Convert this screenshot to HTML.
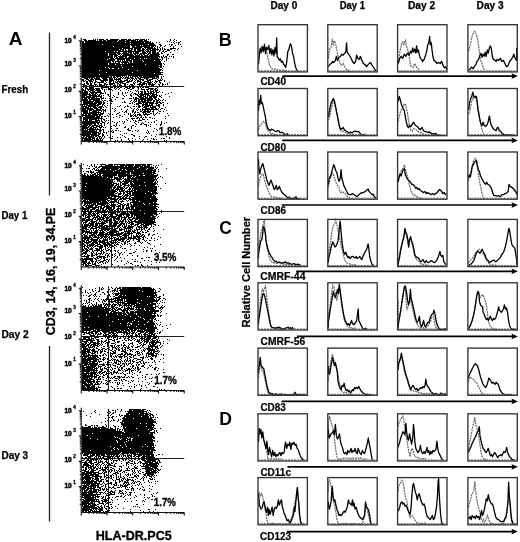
<!DOCTYPE html>
<html><head><meta charset="utf-8"><style>html,body{margin:0;padding:0;background:#fff;width:520px;height:542px;overflow:hidden}svg{display:block}</style></head>
<body><svg width="520" height="542" viewBox="0 0 520 542"><text x="8.87" y="44.65" font-size="18.60" textLength="13.80" lengthAdjust="spacingAndGlyphs" font-family="'Liberation Sans', Arial, sans-serif" font-weight="bold" >A</text><text x="1.59" y="92.85" font-size="10.00" textLength="26.66" lengthAdjust="spacingAndGlyphs" font-family="'Liberation Sans', Arial, sans-serif" font-weight="bold" stroke="#000" stroke-width="0.25">Fresh</text><text x="1.50" y="218.55" font-size="10.00" textLength="25.83" lengthAdjust="spacingAndGlyphs" font-family="'Liberation Sans', Arial, sans-serif" font-weight="bold" stroke="#000" stroke-width="0.25">Day 1</text><text x="1.46" y="337.55" font-size="10.00" textLength="27.21" lengthAdjust="spacingAndGlyphs" font-family="'Liberation Sans', Arial, sans-serif" font-weight="bold" stroke="#000" stroke-width="0.25">Day 2</text><text x="1.48" y="458.55" font-size="10.00" textLength="26.63" lengthAdjust="spacingAndGlyphs" font-family="'Liberation Sans', Arial, sans-serif" font-weight="bold" stroke="#000" stroke-width="0.25">Day 3</text><path d="M49.5 32.5V195.6M49.5 346V521.5" stroke="#222" stroke-width="1.3" fill="none"/><text transform="translate(55.05 335.25) rotate(-90)" font-size="12.40" textLength="127.59" lengthAdjust="spacingAndGlyphs" font-family="'Liberation Sans', Arial, sans-serif" font-weight="bold" stroke="#000" stroke-width="0.35">CD3, 14, 16, 19, 34.PE</text><text x="95.70" y="539.75" font-size="13.00" textLength="76.10" lengthAdjust="spacingAndGlyphs" font-family="'Liberation Sans', Arial, sans-serif" font-weight="bold" stroke="#000" stroke-width="0.35">HLA-DR.PC5</text><path d="M81.25 86.5H184.25M110.5 38.75V141.5" stroke="#222" stroke-width="1" fill="none"/><path d="M83 39.5h3M93 39.5h1M95 39.5h1M97 39.5h1M99 39.5h5M106 39.5h2M110 39.5h9M121 39.5h6M128 39.5h3M133 39.5h1M135 39.5h4M140 39.5h5M146 39.5h1M148 39.5h1M170 39.5h1M174 39.5h1M84 40.5h3M88 40.5h8M97 40.5h1M99 40.5h3M103 40.5h3M107 40.5h11M119 40.5h6M126 40.5h10M137 40.5h1M139 40.5h4M144 40.5h3M170 40.5h1M173 40.5h1M176 40.5h1M82 41.5h2M85 41.5h32M118 41.5h12M131 41.5h18M150 41.5h1M167 41.5h1M169 41.5h1M174 41.5h1M180 41.5h1M82 42.5h2M85 42.5h40M126 42.5h18M145 42.5h6M152 42.5h1M156 42.5h1M159 42.5h1M171 42.5h1M173 42.5h1M176 42.5h1M178 42.5h2M82 43.5h48M131 43.5h23M174 43.5h1M178 43.5h1M82 44.5h20M103 44.5h45M149 44.5h6M159 44.5h2M169 44.5h1M171 44.5h2M178 44.5h1M180 44.5h1M82 45.5h48M131 45.5h9M141 45.5h1M143 45.5h13M160 45.5h2M165 45.5h1M171 45.5h1M175 45.5h1M82 46.5h31M114 46.5h16M132 46.5h3M136 46.5h14M151 46.5h3M155 46.5h1M157 46.5h1M160 46.5h1M164 46.5h1M170 46.5h1M173 46.5h1M181 46.5h1M82 47.5h48M132 47.5h10M144 47.5h9M154 47.5h1M157 47.5h1M159 47.5h1M162 47.5h1M173 47.5h1M82 48.5h40M123 48.5h10M134 48.5h7M142 48.5h2M145 48.5h1M147 48.5h9M157 48.5h1M160 48.5h1M162 48.5h1M164 48.5h1M170 48.5h6M178 48.5h1M82 49.5h37M120 49.5h4M125 49.5h1M128 49.5h2M131 49.5h2M134 49.5h2M137 49.5h4M142 49.5h3M146 49.5h5M152 49.5h7M160 49.5h1M162 49.5h1M164 49.5h2M167 49.5h2M170 49.5h2M177 49.5h1M82 50.5h39M122 50.5h2M125 50.5h2M128 50.5h4M134 50.5h2M137 50.5h7M145 50.5h1M147 50.5h2M150 50.5h6M157 50.5h1M159 50.5h2M163 50.5h1M167 50.5h3M174 50.5h1M82 51.5h23M106 51.5h8M115 51.5h2M118 51.5h23M142 51.5h3M146 51.5h5M152 51.5h4M159 51.5h1M162 51.5h2M165 51.5h2M82 52.5h38M123 52.5h4M128 52.5h4M133 52.5h1M135 52.5h4M142 52.5h4M147 52.5h1M149 52.5h2M152 52.5h4M157 52.5h2M161 52.5h1M164 52.5h1M170 52.5h1M82 53.5h26M109 53.5h7M117 53.5h4M122 53.5h7M130 53.5h2M133 53.5h6M140 53.5h7M148 53.5h3M152 53.5h7M161 53.5h2M82 54.5h26M109 54.5h8M118 54.5h2M121 54.5h1M123 54.5h10M134 54.5h2M137 54.5h1M139 54.5h3M143 54.5h2M147 54.5h2M150 54.5h10M167 54.5h2M172 54.5h2M82 55.5h26M109 55.5h1M111 55.5h2M114 55.5h4M120 55.5h1M122 55.5h12M135 55.5h5M141 55.5h2M144 55.5h4M149 55.5h10M163 55.5h1M167 55.5h1M82 56.5h28M111 56.5h2M114 56.5h3M118 56.5h9M129 56.5h31M161 56.5h1M163 56.5h1M165 56.5h2M169 56.5h1M171 56.5h1M173 56.5h1M82 57.5h31M114 57.5h1M116 57.5h2M119 57.5h5M125 57.5h2M128 57.5h30M159 57.5h1M161 57.5h2M164 57.5h1M166 57.5h1M173 57.5h1M82 58.5h27M110 58.5h4M115 58.5h19M135 58.5h5M141 58.5h3M145 58.5h1M147 58.5h12M162 58.5h1M166 58.5h1M168 58.5h1M82 59.5h25M108 59.5h7M117 59.5h8M126 59.5h4M131 59.5h30M162 59.5h1M166 59.5h1M82 60.5h33M117 60.5h2M120 60.5h1M122 60.5h1M124 60.5h1M126 60.5h6M133 60.5h9M143 60.5h11M155 60.5h5M161 60.5h1M166 60.5h1M82 61.5h29M112 61.5h2M115 61.5h6M122 61.5h6M129 61.5h3M133 61.5h10M144 61.5h17M164 61.5h1M82 62.5h29M113 62.5h1M115 62.5h1M118 62.5h2M121 62.5h8M130 62.5h2M133 62.5h28M82 63.5h26M109 63.5h11M122 63.5h1M124 63.5h3M128 63.5h34M163 63.5h1M82 64.5h26M109 64.5h6M116 64.5h29M146 64.5h16M164 64.5h1M82 65.5h39M122 65.5h37M160 65.5h2M82 66.5h50M133 66.5h29M163 66.5h1M82 67.5h23M106 67.5h2M109 67.5h13M123 67.5h36M160 67.5h2M82 68.5h27M110 68.5h2M114 68.5h4M119 68.5h41M162 68.5h1M82 69.5h46M129 69.5h33M82 70.5h17M100 70.5h37M138 70.5h23M162 70.5h1M82 71.5h78M82 72.5h24M107 72.5h25M133 72.5h30M82 73.5h72M155 73.5h6M82 74.5h17M100 74.5h63M82 75.5h45M128 75.5h31M82 76.5h27M110 76.5h2M113 76.5h2M116 76.5h5M122 76.5h1M124 76.5h1M126 76.5h1M128 76.5h1M130 76.5h1M132 76.5h6M139 76.5h3M143 76.5h16M161 76.5h1M163 76.5h1M82 77.5h13M96 77.5h4M101 77.5h9M111 77.5h1M113 77.5h3M117 77.5h1M120 77.5h2M123 77.5h1M125 77.5h4M130 77.5h3M135 77.5h1M137 77.5h2M140 77.5h15M156 77.5h3M161 77.5h1M84 78.5h4M89 78.5h1M91 78.5h2M94 78.5h6M102 78.5h5M109 78.5h4M114 78.5h1M116 78.5h1M118 78.5h3M122 78.5h1M124 78.5h2M127 78.5h3M131 78.5h3M135 78.5h2M138 78.5h3M144 78.5h5M152 78.5h5M158 78.5h1M161 78.5h1M82 79.5h2M86 79.5h3M90 79.5h4M95 79.5h6M103 79.5h5M109 79.5h4M114 79.5h7M126 79.5h2M130 79.5h1M132 79.5h1M134 79.5h1M136 79.5h1M139 79.5h5M146 79.5h2M149 79.5h4M157 79.5h1M160 79.5h1M162 79.5h1M82 80.5h2M85 80.5h1M88 80.5h4M93 80.5h1M95 80.5h1M100 80.5h8M109 80.5h5M116 80.5h1M118 80.5h1M120 80.5h2M124 80.5h4M129 80.5h1M131 80.5h2M135 80.5h1M137 80.5h2M140 80.5h1M142 80.5h2M147 80.5h4M155 80.5h1M158 80.5h4M164 80.5h1M83 81.5h2M86 81.5h2M89 81.5h4M95 81.5h2M101 81.5h3M105 81.5h1M109 81.5h3M113 81.5h1M115 81.5h1M117 81.5h8M127 81.5h5M134 81.5h1M137 81.5h4M144 81.5h5M150 81.5h1M152 81.5h1M155 81.5h3M159 81.5h1M164 81.5h1M86 82.5h2M90 82.5h1M92 82.5h1M94 82.5h2M97 82.5h7M106 82.5h1M109 82.5h2M113 82.5h1M115 82.5h3M119 82.5h4M126 82.5h3M133 82.5h1M135 82.5h1M137 82.5h1M140 82.5h2M143 82.5h2M147 82.5h5M154 82.5h1M156 82.5h1M159 82.5h2M169 82.5h1M84 83.5h1M86 83.5h3M90 83.5h2M94 83.5h1M99 83.5h1M104 83.5h2M109 83.5h6M117 83.5h2M120 83.5h1M122 83.5h4M133 83.5h2M139 83.5h2M142 83.5h5M148 83.5h3M152 83.5h1M155 83.5h1M160 83.5h1M162 83.5h1M167 83.5h1M82 84.5h3M87 84.5h2M90 84.5h2M94 84.5h3M99 84.5h3M104 84.5h4M109 84.5h4M114 84.5h1M117 84.5h1M119 84.5h2M124 84.5h2M127 84.5h1M130 84.5h3M134 84.5h1M137 84.5h8M146 84.5h1M148 84.5h7M158 84.5h2M162 84.5h2M165 84.5h1M167 84.5h1M83 85.5h4M89 85.5h5M95 85.5h1M97 85.5h1M99 85.5h6M106 85.5h1M113 85.5h3M117 85.5h1M119 85.5h3M124 85.5h2M129 85.5h1M131 85.5h3M139 85.5h1M141 85.5h2M146 85.5h1M149 85.5h1M151 85.5h3M159 85.5h1M162 85.5h1M82 86.5h3M86 86.5h1M89 86.5h1M91 86.5h1M94 86.5h6M101 86.5h2M105 86.5h2M110 86.5h1M115 86.5h2M118 86.5h2M121 86.5h2M124 86.5h1M126 86.5h1M129 86.5h4M135 86.5h1M140 86.5h1M143 86.5h1M147 86.5h2M150 86.5h2M153 86.5h1M156 86.5h1M159 86.5h3M83 87.5h1M85 87.5h2M89 87.5h5M101 87.5h8M110 87.5h3M114 87.5h2M117 87.5h2M120 87.5h2M125 87.5h3M129 87.5h2M132 87.5h3M137 87.5h2M140 87.5h1M142 87.5h2M145 87.5h4M157 87.5h1M82 88.5h1M85 88.5h3M89 88.5h5M95 88.5h5M101 88.5h2M108 88.5h2M114 88.5h1M116 88.5h1M119 88.5h1M124 88.5h1M127 88.5h3M132 88.5h2M138 88.5h1M141 88.5h1M148 88.5h6M155 88.5h2M82 89.5h2M85 89.5h1M87 89.5h8M96 89.5h4M102 89.5h1M104 89.5h1M106 89.5h1M108 89.5h4M115 89.5h1M118 89.5h1M126 89.5h1M130 89.5h2M138 89.5h1M141 89.5h4M146 89.5h3M150 89.5h3M154 89.5h2M157 89.5h1M82 90.5h4M88 90.5h1M90 90.5h4M95 90.5h6M104 90.5h1M110 90.5h1M112 90.5h1M120 90.5h1M128 90.5h1M135 90.5h1M137 90.5h1M144 90.5h1M147 90.5h1M150 90.5h1M153 90.5h1M155 90.5h3M82 91.5h1M84 91.5h4M89 91.5h2M92 91.5h3M97 91.5h4M104 91.5h1M130 91.5h1M136 91.5h1M138 91.5h1M140 91.5h3M144 91.5h2M147 91.5h2M150 91.5h4M155 91.5h2M159 91.5h1M82 92.5h6M90 92.5h12M105 92.5h1M110 92.5h1M118 92.5h1M122 92.5h1M125 92.5h1M127 92.5h1M132 92.5h1M138 92.5h1M141 92.5h2M144 92.5h2M148 92.5h1M150 92.5h2M153 92.5h2M156 92.5h3M162 92.5h1M171 92.5h1M82 93.5h6M89 93.5h1M91 93.5h3M95 93.5h2M100 93.5h4M105 93.5h1M110 93.5h1M118 93.5h1M122 93.5h1M125 93.5h1M131 93.5h1M134 93.5h2M138 93.5h1M140 93.5h3M144 93.5h10M156 93.5h1M168 93.5h1M82 94.5h9M92 94.5h4M97 94.5h1M99 94.5h2M107 94.5h2M118 94.5h1M122 94.5h1M130 94.5h1M133 94.5h1M135 94.5h3M139 94.5h10M150 94.5h1M152 94.5h5M165 94.5h1M82 95.5h5M89 95.5h8M98 95.5h2M101 95.5h1M103 95.5h1M108 95.5h1M113 95.5h1M123 95.5h1M126 95.5h1M130 95.5h2M137 95.5h2M140 95.5h4M145 95.5h1M147 95.5h3M151 95.5h4M156 95.5h2M159 95.5h1M161 95.5h1M82 96.5h3M86 96.5h5M92 96.5h10M109 96.5h1M114 96.5h1M124 96.5h1M131 96.5h1M138 96.5h4M143 96.5h3M147 96.5h1M149 96.5h8M159 96.5h2M169 96.5h1M82 97.5h13M96 97.5h1M100 97.5h2M103 97.5h1M112 97.5h1M116 97.5h2M133 97.5h1M135 97.5h2M139 97.5h5M145 97.5h3M149 97.5h3M153 97.5h4M161 97.5h1M82 98.5h1M84 98.5h3M88 98.5h2M91 98.5h9M101 98.5h3M105 98.5h1M109 98.5h1M122 98.5h2M129 98.5h3M133 98.5h1M135 98.5h4M140 98.5h13M154 98.5h2M158 98.5h1M82 99.5h6M89 99.5h11M101 99.5h1M110 99.5h2M115 99.5h1M134 99.5h3M138 99.5h8M147 99.5h6M155 99.5h2M158 99.5h2M163 99.5h1M82 100.5h6M89 100.5h2M93 100.5h7M102 100.5h1M104 100.5h2M109 100.5h1M111 100.5h1M131 100.5h1M134 100.5h1M136 100.5h1M138 100.5h2M141 100.5h2M144 100.5h8M153 100.5h2M156 100.5h3M160 100.5h1M162 100.5h1M165 100.5h1M83 101.5h11M95 101.5h7M103 101.5h1M107 101.5h1M111 101.5h2M124 101.5h1M130 101.5h1M133 101.5h1M135 101.5h2M138 101.5h8M147 101.5h2M150 101.5h1M153 101.5h2M156 101.5h2M159 101.5h1M83 102.5h10M94 102.5h8M103 102.5h2M122 102.5h1M124 102.5h2M132 102.5h1M134 102.5h1M138 102.5h3M142 102.5h12M156 102.5h5M162 102.5h2M83 103.5h14M98 103.5h4M103 103.5h2M107 103.5h1M111 103.5h1M129 103.5h2M132 103.5h1M136 103.5h6M143 103.5h1M145 103.5h3M149 103.5h5M155 103.5h3M160 103.5h2M167 103.5h1M82 104.5h6M89 104.5h7M97 104.5h4M102 104.5h2M134 104.5h1M136 104.5h3M142 104.5h6M149 104.5h1M151 104.5h2M156 104.5h1M158 104.5h2M163 104.5h1M82 105.5h1M84 105.5h1M86 105.5h13M102 105.5h1M104 105.5h1M107 105.5h1M120 105.5h1M127 105.5h1M138 105.5h2M142 105.5h2M145 105.5h8M156 105.5h4M163 105.5h1M82 106.5h5M88 106.5h8M97 106.5h1M99 106.5h4M105 106.5h1M117 106.5h1M119 106.5h1M125 106.5h1M127 106.5h2M133 106.5h2M136 106.5h1M138 106.5h3M142 106.5h1M144 106.5h5M150 106.5h1M152 106.5h4M158 106.5h2M82 107.5h2M85 107.5h4M90 107.5h1M93 107.5h4M98 107.5h4M103 107.5h1M106 107.5h1M124 107.5h1M130 107.5h1M138 107.5h2M143 107.5h4M150 107.5h6M159 107.5h1M165 107.5h1M82 108.5h11M94 108.5h4M100 108.5h2M112 108.5h1M115 108.5h1M131 108.5h1M134 108.5h1M137 108.5h1M142 108.5h1M145 108.5h5M151 108.5h3M155 108.5h2M158 108.5h1M161 108.5h2M82 109.5h4M87 109.5h7M96 109.5h5M102 109.5h2M105 109.5h1M110 109.5h1M114 109.5h1M121 109.5h1M127 109.5h1M133 109.5h1M136 109.5h1M138 109.5h1M140 109.5h1M142 109.5h16M160 109.5h1M164 109.5h1M82 110.5h6M89 110.5h3M93 110.5h9M103 110.5h3M115 110.5h1M126 110.5h1M132 110.5h2M137 110.5h1M140 110.5h1M142 110.5h1M144 110.5h2M147 110.5h2M150 110.5h1M153 110.5h1M158 110.5h1M166 110.5h1M82 111.5h6M89 111.5h1M92 111.5h5M98 111.5h1M101 111.5h1M103 111.5h1M105 111.5h1M114 111.5h1M122 111.5h1M125 111.5h2M132 111.5h2M135 111.5h1M140 111.5h2M143 111.5h8M152 111.5h2M159 111.5h2M163 111.5h1M83 112.5h5M89 112.5h12M103 112.5h1M119 112.5h1M124 112.5h1M126 112.5h1M132 112.5h1M134 112.5h2M137 112.5h2M142 112.5h4M147 112.5h3M153 112.5h1M157 112.5h1M83 113.5h14M98 113.5h1M100 113.5h4M108 113.5h1M110 113.5h1M117 113.5h2M128 113.5h1M130 113.5h1M134 113.5h1M139 113.5h1M143 113.5h1M145 113.5h2M150 113.5h2M153 113.5h1M156 113.5h1M159 113.5h1M167 113.5h1M82 114.5h2M85 114.5h2M88 114.5h3M92 114.5h11M109 114.5h1M112 114.5h1M116 114.5h1M124 114.5h1M128 114.5h1M130 114.5h1M133 114.5h1M135 114.5h1M137 114.5h4M143 114.5h7M153 114.5h1M155 114.5h1M82 115.5h16M99 115.5h2M107 115.5h1M119 115.5h2M130 115.5h3M134 115.5h2M137 115.5h1M139 115.5h3M144 115.5h1M147 115.5h1M154 115.5h1M168 115.5h1M82 116.5h1M85 116.5h10M96 116.5h4M101 116.5h2M104 116.5h2M108 116.5h1M116 116.5h1M122 116.5h1M130 116.5h2M133 116.5h1M135 116.5h2M141 116.5h1M145 116.5h1M165 116.5h1M83 117.5h17M101 117.5h1M113 117.5h1M119 117.5h1M137 117.5h2M140 117.5h2M143 117.5h1M145 117.5h2M149 117.5h2M83 118.5h20M106 118.5h1M128 118.5h1M131 118.5h4M136 118.5h2M139 118.5h1M142 118.5h1M152 118.5h1M154 118.5h1M165 118.5h1M83 119.5h5M89 119.5h8M98 119.5h1M101 119.5h1M103 119.5h2M110 119.5h1M126 119.5h1M132 119.5h1M139 119.5h1M142 119.5h3M147 119.5h1M83 120.5h1M85 120.5h3M89 120.5h3M95 120.5h5M101 120.5h1M104 120.5h1M106 120.5h1M108 120.5h1M127 120.5h1M133 120.5h1M135 120.5h1M138 120.5h4M156 120.5h1M82 121.5h16M99 121.5h1M101 121.5h2M105 121.5h1M110 121.5h1M112 121.5h1M119 121.5h1M122 121.5h1M124 121.5h1M130 121.5h1M135 121.5h2M145 121.5h1M154 121.5h1M161 121.5h1M82 122.5h18M102 122.5h3M108 122.5h1M114 122.5h1M117 122.5h1M124 122.5h1M134 122.5h1M138 122.5h1M142 122.5h1M148 122.5h1M151 122.5h1M154 122.5h1M161 122.5h1M166 122.5h1M82 123.5h14M97 123.5h2M100 123.5h2M104 123.5h1M107 123.5h1M116 123.5h1M123 123.5h1M135 123.5h1M141 123.5h1M143 123.5h1M161 123.5h1M164 123.5h1M83 124.5h9M94 124.5h2M98 124.5h1M101 124.5h1M104 124.5h1M116 124.5h1M136 124.5h1M140 124.5h2M144 124.5h3M150 124.5h1M156 124.5h1M160 124.5h2M82 125.5h6M89 125.5h2M92 125.5h6M99 125.5h3M104 125.5h1M113 125.5h2M116 125.5h1M119 125.5h1M132 125.5h2M146 125.5h1M148 125.5h1M160 125.5h1M82 126.5h5M88 126.5h2M91 126.5h3M96 126.5h4M101 126.5h2M111 126.5h1M115 126.5h1M125 126.5h1M131 126.5h1M135 126.5h1M146 126.5h1M150 126.5h1M82 127.5h7M90 127.5h2M93 127.5h4M99 127.5h3M103 127.5h1M105 127.5h1M110 127.5h1M124 127.5h2M131 127.5h1M82 128.5h6M89 128.5h5M95 128.5h1M97 128.5h1M100 128.5h1M111 128.5h1M116 128.5h2M128 128.5h1M131 128.5h1M154 128.5h1M82 129.5h2M85 129.5h1M87 129.5h14M102 129.5h2M127 129.5h2M156 129.5h1M82 130.5h6M89 130.5h6M96 130.5h1M99 130.5h3M103 130.5h1M110 130.5h1M112 130.5h1M115 130.5h2M118 130.5h1M128 130.5h3M135 130.5h1M138 130.5h1M147 130.5h1M157 130.5h1M82 131.5h15M99 131.5h2M103 131.5h1M108 131.5h1M111 131.5h1M113 131.5h1M120 131.5h1M132 131.5h1M137 131.5h1M148 131.5h1M153 131.5h1M82 132.5h17M100 132.5h1M103 132.5h2M106 132.5h1M112 132.5h2M146 132.5h1M148 132.5h1M82 133.5h9M92 133.5h5M98 133.5h3M102 133.5h1M106 133.5h1M124 133.5h1M126 133.5h1M147 133.5h1M149 133.5h1M82 134.5h15M98 134.5h2M102 134.5h2M110 134.5h1M120 134.5h1M131 134.5h2M156 134.5h1M82 135.5h8M91 135.5h8M102 135.5h2M107 135.5h1M122 135.5h1M133 135.5h2M151 135.5h1M83 136.5h2M86 136.5h8M95 136.5h2M98 136.5h3M102 136.5h1M104 136.5h1M112 136.5h1M124 136.5h1M134 136.5h1M139 136.5h1M145 136.5h2M155 136.5h1M166 136.5h1M82 137.5h2M85 137.5h2M88 137.5h7M97 137.5h1M99 137.5h1M101 137.5h1M104 137.5h1M109 137.5h1M117 137.5h1M120 137.5h1M125 137.5h1M144 137.5h1M169 137.5h1M82 138.5h9M92 138.5h3M96 138.5h2M99 138.5h3M103 138.5h1M111 138.5h2M128 138.5h1M132 138.5h1M139 138.5h1M151 138.5h1M153 138.5h1M161 138.5h1M163 138.5h2M169 138.5h1M82 139.5h1M84 139.5h9M94 139.5h1M96 139.5h3M100 139.5h1M102 139.5h1M121 139.5h1M128 139.5h1M135 139.5h1M143 139.5h1M147 139.5h1M153 139.5h2M156 139.5h1M82 140.5h9M92 140.5h11M115 140.5h1M117 140.5h1M121 140.5h1M129 140.5h1M132 140.5h1M142 140.5h1M150 140.5h1M164 140.5h1M166 140.5h1" stroke="#000" stroke-width="1" shape-rendering="crispEdges"/><path d="M81.25 37.75V141.5H184.25M81.25 141.5v3M89.00 141.5v1.6M93.54 141.5v1.6M96.75 141.5v1.6M99.25 141.5v1.6M101.29 141.5v1.6M103.01 141.5v1.6M104.50 141.5v1.6M105.82 141.5v1.6M107.00 141.5v3M114.75 141.5v1.6M119.29 141.5v1.6M122.50 141.5v1.6M125.00 141.5v1.6M127.04 141.5v1.6M128.76 141.5v1.6M130.25 141.5v1.6M131.57 141.5v1.6M132.75 141.5v3M140.50 141.5v1.6M145.04 141.5v1.6M148.25 141.5v1.6M150.75 141.5v1.6M152.79 141.5v1.6M154.51 141.5v1.6M156.00 141.5v1.6M157.32 141.5v1.6M158.50 141.5v3M166.25 141.5v1.6M170.79 141.5v1.6M174.00 141.5v1.6M176.50 141.5v1.6M178.54 141.5v1.6M180.26 141.5v1.6M181.75 141.5v1.6M183.07 141.5v1.6M184.25 141.5v3M81.25 40.75h-2.5M81.25 58.43h-1.5M81.25 53.98h-1.5M81.25 50.82h-1.5M81.25 48.37h-1.5M81.25 46.36h-1.5M81.25 44.67h-1.5M81.25 43.20h-1.5M81.25 41.91h-1.5M81.25 66.05h-2.5M81.25 83.73h-1.5M81.25 79.28h-1.5M81.25 76.12h-1.5M81.25 73.67h-1.5M81.25 71.66h-1.5M81.25 69.97h-1.5M81.25 68.50h-1.5M81.25 67.21h-1.5M81.25 91.35h-2.5M81.25 109.03h-1.5M81.25 104.58h-1.5M81.25 101.42h-1.5M81.25 98.97h-1.5M81.25 96.96h-1.5M81.25 95.27h-1.5M81.25 93.80h-1.5M81.25 92.51h-1.5M81.25 116.65h-2.5M81.25 134.33h-1.5M81.25 129.88h-1.5M81.25 126.72h-1.5M81.25 124.27h-1.5M81.25 122.26h-1.5M81.25 120.57h-1.5M81.25 119.10h-1.5M81.25 117.81h-1.5" stroke="#111" stroke-width="1.1" fill="none"/><text x="64.43" y="43.10" font-size="7.20" textLength="7.40" lengthAdjust="spacingAndGlyphs" font-family="'Liberation Sans', Arial, sans-serif" font-weight="bold" stroke="#000" stroke-width="0.5">10</text><text x="73.3" y="39.05" font-size="4.6" font-family="'Liberation Sans', Arial, sans-serif" font-weight="bold" stroke="#000" stroke-width="0.3">4</text><text x="64.43" y="65.90" font-size="7.20" textLength="7.40" lengthAdjust="spacingAndGlyphs" font-family="'Liberation Sans', Arial, sans-serif" font-weight="bold" stroke="#000" stroke-width="0.5">10</text><text x="73.3" y="61.85" font-size="4.6" font-family="'Liberation Sans', Arial, sans-serif" font-weight="bold" stroke="#000" stroke-width="0.3">3</text><text x="64.43" y="91.80" font-size="7.20" textLength="7.40" lengthAdjust="spacingAndGlyphs" font-family="'Liberation Sans', Arial, sans-serif" font-weight="bold" stroke="#000" stroke-width="0.5">10</text><text x="73.3" y="87.75" font-size="4.6" font-family="'Liberation Sans', Arial, sans-serif" font-weight="bold" stroke="#000" stroke-width="0.3">2</text><text x="64.43" y="118.00" font-size="7.20" textLength="7.40" lengthAdjust="spacingAndGlyphs" font-family="'Liberation Sans', Arial, sans-serif" font-weight="bold" stroke="#000" stroke-width="0.5">10</text><text x="73.3" y="113.95" font-size="4.6" font-family="'Liberation Sans', Arial, sans-serif" font-weight="bold" stroke="#000" stroke-width="0.3">1</text><text x="158.63" y="134.85" font-size="10.00" textLength="22.59" lengthAdjust="spacingAndGlyphs" font-family="'Liberation Sans', Arial, sans-serif" font-weight="bold" stroke="#000" stroke-width="0.3">1.8%</text><path d="M81.25 211.5H184.25M111.5 163.75V267" stroke="#222" stroke-width="1" fill="none"/><path d="M83 164.5h1M91 164.5h1M94 164.5h1M97 164.5h1M100 164.5h6M108 164.5h3M112 164.5h1M114 164.5h11M126 164.5h8M135 164.5h11M147 164.5h5M161 164.5h1M87 165.5h1M91 165.5h1M94 165.5h1M101 165.5h1M105 165.5h8M114 165.5h1M117 165.5h1M120 165.5h14M135 165.5h6M142 165.5h4M147 165.5h3M153 165.5h1M156 165.5h1M158 165.5h1M89 166.5h1M92 166.5h1M94 166.5h1M96 166.5h1M99 166.5h25M125 166.5h2M128 166.5h5M134 166.5h9M144 166.5h6M151 166.5h1M155 166.5h1M95 167.5h2M98 167.5h2M102 167.5h37M140 167.5h14M155 167.5h1M157 167.5h1M82 168.5h1M86 168.5h1M88 168.5h2M93 168.5h2M97 168.5h1M101 168.5h18M120 168.5h17M138 168.5h9M148 168.5h6M156 168.5h1M166 168.5h1M92 169.5h1M94 169.5h1M96 169.5h1M98 169.5h1M100 169.5h5M106 169.5h4M111 169.5h7M119 169.5h3M123 169.5h2M126 169.5h20M147 169.5h6M154 169.5h2M158 169.5h1M90 170.5h1M95 170.5h20M116 170.5h10M127 170.5h6M134 170.5h22M83 171.5h1M86 171.5h3M90 171.5h2M93 171.5h1M98 171.5h15M114 171.5h6M121 171.5h31M153 171.5h3M158 171.5h1M88 172.5h1M90 172.5h4M96 172.5h34M131 172.5h24M84 173.5h2M91 173.5h1M94 173.5h2M97 173.5h1M99 173.5h27M127 173.5h3M131 173.5h12M144 173.5h8M153 173.5h3M82 174.5h1M84 174.5h1M87 174.5h1M90 174.5h1M92 174.5h4M97 174.5h4M103 174.5h14M118 174.5h12M131 174.5h1M133 174.5h21M157 174.5h1M82 175.5h4M87 175.5h2M90 175.5h4M95 175.5h3M99 175.5h2M102 175.5h15M118 175.5h21M140 175.5h3M145 175.5h13M82 176.5h20M103 176.5h10M114 176.5h1M118 176.5h8M127 176.5h5M133 176.5h2M136 176.5h21M160 176.5h1M82 177.5h25M108 177.5h5M114 177.5h4M119 177.5h3M123 177.5h1M127 177.5h4M132 177.5h2M135 177.5h21M158 177.5h1M162 177.5h1M82 178.5h28M114 178.5h7M122 178.5h2M125 178.5h1M127 178.5h27M155 178.5h1M157 178.5h1M82 179.5h33M116 179.5h6M124 179.5h6M131 179.5h6M138 179.5h19M82 180.5h29M112 180.5h1M117 180.5h3M123 180.5h1M125 180.5h7M133 180.5h22M156 180.5h1M82 181.5h29M112 181.5h1M114 181.5h1M117 181.5h1M119 181.5h2M122 181.5h32M155 181.5h1M157 181.5h1M82 182.5h32M120 182.5h2M124 182.5h5M130 182.5h2M133 182.5h11M145 182.5h8M154 182.5h2M157 182.5h1M82 183.5h4M87 183.5h25M113 183.5h4M118 183.5h1M120 183.5h1M122 183.5h6M130 183.5h3M134 183.5h23M165 183.5h1M82 184.5h32M116 184.5h3M120 184.5h1M122 184.5h4M128 184.5h1M130 184.5h26M157 184.5h1M82 185.5h29M112 185.5h2M115 185.5h2M118 185.5h1M120 185.5h2M124 185.5h6M131 185.5h8M140 185.5h5M146 185.5h9M82 186.5h3M86 186.5h27M114 186.5h2M117 186.5h4M123 186.5h2M128 186.5h1M130 186.5h27M158 186.5h1M82 187.5h30M113 187.5h3M117 187.5h6M124 187.5h1M126 187.5h2M129 187.5h1M131 187.5h1M133 187.5h24M82 188.5h29M113 188.5h2M116 188.5h3M120 188.5h4M125 188.5h2M129 188.5h2M132 188.5h25M160 188.5h1M82 189.5h28M111 189.5h3M115 189.5h8M124 189.5h1M128 189.5h3M132 189.5h1M134 189.5h23M82 190.5h3M86 190.5h25M112 190.5h4M117 190.5h1M119 190.5h1M121 190.5h4M127 190.5h1M129 190.5h1M131 190.5h5M137 190.5h20M82 191.5h29M112 191.5h5M119 191.5h5M125 191.5h8M134 191.5h14M149 191.5h7M82 192.5h33M117 192.5h1M120 192.5h1M123 192.5h2M126 192.5h2M129 192.5h2M132 192.5h19M152 192.5h5M82 193.5h32M115 193.5h2M118 193.5h4M123 193.5h2M127 193.5h4M132 193.5h13M146 193.5h12M82 194.5h33M118 194.5h3M123 194.5h1M125 194.5h3M129 194.5h2M132 194.5h22M155 194.5h1M82 195.5h35M118 195.5h1M122 195.5h1M124 195.5h5M130 195.5h22M153 195.5h2M82 196.5h28M111 196.5h11M123 196.5h2M126 196.5h2M129 196.5h2M134 196.5h22M82 197.5h25M108 197.5h4M114 197.5h2M118 197.5h3M122 197.5h2M125 197.5h2M129 197.5h1M131 197.5h25M82 198.5h34M117 198.5h2M120 198.5h11M132 198.5h18M151 198.5h6M82 199.5h1M84 199.5h24M110 199.5h8M119 199.5h3M123 199.5h3M129 199.5h29M83 200.5h3M87 200.5h1M89 200.5h17M107 200.5h3M114 200.5h3M118 200.5h1M122 200.5h1M126 200.5h1M128 200.5h1M130 200.5h1M132 200.5h3M136 200.5h21M82 201.5h19M102 201.5h5M108 201.5h1M110 201.5h1M112 201.5h5M118 201.5h1M120 201.5h4M127 201.5h1M132 201.5h7M140 201.5h17M82 202.5h1M84 202.5h15M100 202.5h8M109 202.5h6M116 202.5h3M121 202.5h1M130 202.5h23M154 202.5h2M82 203.5h1M84 203.5h8M93 203.5h3M97 203.5h12M111 203.5h1M113 203.5h1M118 203.5h3M123 203.5h1M127 203.5h2M130 203.5h1M133 203.5h10M144 203.5h5M150 203.5h7M84 204.5h2M87 204.5h1M89 204.5h1M91 204.5h5M97 204.5h9M107 204.5h1M109 204.5h1M111 204.5h5M117 204.5h1M120 204.5h3M124 204.5h2M127 204.5h2M130 204.5h2M133 204.5h11M145 204.5h14M83 205.5h2M86 205.5h8M95 205.5h3M101 205.5h4M106 205.5h3M110 205.5h6M118 205.5h3M122 205.5h3M126 205.5h3M131 205.5h22M154 205.5h2M82 206.5h1M85 206.5h2M88 206.5h5M95 206.5h2M98 206.5h4M104 206.5h6M111 206.5h4M116 206.5h5M122 206.5h2M126 206.5h1M128 206.5h1M130 206.5h28M82 207.5h2M86 207.5h13M100 207.5h2M103 207.5h2M106 207.5h6M113 207.5h2M118 207.5h1M120 207.5h1M122 207.5h2M126 207.5h4M131 207.5h3M135 207.5h21M158 207.5h1M82 208.5h8M92 208.5h4M98 208.5h1M100 208.5h4M106 208.5h6M113 208.5h2M117 208.5h4M122 208.5h2M125 208.5h5M131 208.5h3M135 208.5h22M82 209.5h7M90 209.5h5M96 209.5h3M100 209.5h1M102 209.5h2M105 209.5h2M108 209.5h6M116 209.5h3M120 209.5h3M124 209.5h1M126 209.5h2M129 209.5h26M156 209.5h2M82 210.5h1M84 210.5h2M87 210.5h2M90 210.5h2M95 210.5h6M102 210.5h4M107 210.5h1M109 210.5h4M114 210.5h2M117 210.5h2M120 210.5h1M122 210.5h1M127 210.5h1M131 210.5h1M133 210.5h7M141 210.5h16M161 210.5h1M82 211.5h11M94 211.5h2M97 211.5h2M102 211.5h2M105 211.5h5M112 211.5h1M114 211.5h1M116 211.5h2M119 211.5h1M123 211.5h6M131 211.5h1M133 211.5h24M161 211.5h1M83 212.5h3M88 212.5h4M93 212.5h1M95 212.5h1M97 212.5h10M108 212.5h8M117 212.5h3M121 212.5h5M127 212.5h1M129 212.5h28M161 212.5h1M83 213.5h4M88 213.5h3M92 213.5h3M96 213.5h3M101 213.5h1M104 213.5h1M108 213.5h1M110 213.5h6M117 213.5h1M120 213.5h9M130 213.5h14M145 213.5h12M159 213.5h1M82 214.5h4M87 214.5h5M93 214.5h3M97 214.5h1M99 214.5h1M102 214.5h6M109 214.5h4M115 214.5h3M119 214.5h11M131 214.5h22M154 214.5h4M82 215.5h2M85 215.5h2M88 215.5h2M91 215.5h5M97 215.5h2M101 215.5h1M103 215.5h4M108 215.5h1M110 215.5h3M116 215.5h6M123 215.5h1M126 215.5h4M131 215.5h2M134 215.5h20M156 215.5h1M83 216.5h1M85 216.5h1M87 216.5h4M92 216.5h1M94 216.5h1M96 216.5h4M101 216.5h1M103 216.5h3M107 216.5h1M109 216.5h8M118 216.5h4M124 216.5h1M126 216.5h3M131 216.5h2M134 216.5h1M136 216.5h15M152 216.5h4M158 216.5h1M85 217.5h5M93 217.5h5M99 217.5h5M105 217.5h5M111 217.5h5M117 217.5h3M121 217.5h6M128 217.5h4M133 217.5h2M136 217.5h19M157 217.5h1M82 218.5h4M88 218.5h2M92 218.5h2M95 218.5h1M97 218.5h4M102 218.5h3M106 218.5h3M110 218.5h2M113 218.5h7M121 218.5h1M124 218.5h2M128 218.5h2M132 218.5h24M82 219.5h3M86 219.5h7M94 219.5h2M97 219.5h7M106 219.5h2M109 219.5h2M113 219.5h2M116 219.5h4M121 219.5h1M123 219.5h3M127 219.5h1M129 219.5h4M135 219.5h3M139 219.5h16M82 220.5h8M91 220.5h2M96 220.5h2M99 220.5h1M101 220.5h1M103 220.5h9M113 220.5h3M118 220.5h1M120 220.5h1M122 220.5h2M125 220.5h1M128 220.5h1M130 220.5h2M134 220.5h2M138 220.5h15M154 220.5h1M82 221.5h1M85 221.5h3M90 221.5h7M99 221.5h2M102 221.5h1M104 221.5h4M109 221.5h3M114 221.5h4M119 221.5h5M125 221.5h2M128 221.5h2M131 221.5h24M83 222.5h4M89 222.5h1M91 222.5h4M96 222.5h1M98 222.5h1M101 222.5h4M106 222.5h2M109 222.5h2M112 222.5h1M114 222.5h4M119 222.5h1M121 222.5h2M125 222.5h1M127 222.5h1M129 222.5h4M135 222.5h21M83 223.5h1M85 223.5h1M88 223.5h6M95 223.5h11M109 223.5h3M113 223.5h6M120 223.5h5M126 223.5h1M128 223.5h2M131 223.5h3M137 223.5h5M143 223.5h11M82 224.5h1M84 224.5h5M90 224.5h4M95 224.5h3M99 224.5h1M101 224.5h3M109 224.5h2M113 224.5h4M119 224.5h3M123 224.5h2M126 224.5h1M130 224.5h4M135 224.5h4M141 224.5h3M145 224.5h7M153 224.5h3M82 225.5h1M84 225.5h10M95 225.5h3M99 225.5h4M104 225.5h4M109 225.5h8M118 225.5h3M122 225.5h1M124 225.5h1M126 225.5h1M128 225.5h2M131 225.5h1M134 225.5h2M137 225.5h1M140 225.5h2M143 225.5h6M151 225.5h1M155 225.5h1M158 225.5h1M82 226.5h6M89 226.5h2M92 226.5h5M98 226.5h7M106 226.5h5M112 226.5h4M117 226.5h3M122 226.5h1M124 226.5h3M128 226.5h6M137 226.5h3M141 226.5h1M143 226.5h4M151 226.5h1M153 226.5h1M82 227.5h5M88 227.5h2M91 227.5h2M95 227.5h5M101 227.5h7M109 227.5h1M111 227.5h2M114 227.5h1M117 227.5h2M120 227.5h1M123 227.5h3M127 227.5h6M136 227.5h1M138 227.5h5M144 227.5h4M150 227.5h1M82 228.5h5M90 228.5h7M99 228.5h12M112 228.5h1M114 228.5h4M119 228.5h1M121 228.5h1M124 228.5h7M132 228.5h1M136 228.5h1M139 228.5h1M141 228.5h1M143 228.5h2M146 228.5h1M149 228.5h1M153 228.5h1M82 229.5h2M85 229.5h4M90 229.5h1M93 229.5h1M96 229.5h1M98 229.5h1M101 229.5h9M112 229.5h4M119 229.5h6M126 229.5h1M128 229.5h1M130 229.5h2M134 229.5h1M136 229.5h4M141 229.5h2M144 229.5h1M148 229.5h2M163 229.5h1M82 230.5h3M86 230.5h1M89 230.5h1M91 230.5h1M93 230.5h1M95 230.5h3M99 230.5h4M104 230.5h2M107 230.5h2M110 230.5h1M112 230.5h5M119 230.5h3M124 230.5h1M126 230.5h1M128 230.5h3M132 230.5h1M134 230.5h2M137 230.5h1M141 230.5h1M145 230.5h1M147 230.5h1M154 230.5h1M82 231.5h8M91 231.5h1M94 231.5h4M100 231.5h1M102 231.5h2M106 231.5h1M109 231.5h10M124 231.5h7M132 231.5h3M137 231.5h1M140 231.5h1M142 231.5h1M147 231.5h2M153 231.5h1M82 232.5h2M85 232.5h13M99 232.5h6M107 232.5h10M118 232.5h1M121 232.5h3M125 232.5h1M127 232.5h3M131 232.5h1M133 232.5h3M137 232.5h3M142 232.5h2M145 232.5h2M82 233.5h1M85 233.5h1M87 233.5h1M89 233.5h3M93 233.5h4M99 233.5h5M105 233.5h3M109 233.5h5M116 233.5h7M124 233.5h9M136 233.5h5M149 233.5h1M157 233.5h1M83 234.5h2M87 234.5h1M91 234.5h4M96 234.5h1M98 234.5h24M123 234.5h4M128 234.5h2M131 234.5h1M136 234.5h1M138 234.5h1M140 234.5h1M142 234.5h2M148 234.5h2M153 234.5h2M82 235.5h1M84 235.5h3M89 235.5h7M97 235.5h7M105 235.5h2M108 235.5h1M110 235.5h10M122 235.5h7M131 235.5h1M133 235.5h1M136 235.5h2M139 235.5h1M141 235.5h2M144 235.5h1M148 235.5h1M152 235.5h1M82 236.5h1M84 236.5h4M89 236.5h2M92 236.5h1M94 236.5h3M98 236.5h1M100 236.5h8M109 236.5h1M111 236.5h2M117 236.5h1M119 236.5h3M124 236.5h3M128 236.5h1M131 236.5h1M133 236.5h9M143 236.5h2M158 236.5h1M82 237.5h10M93 237.5h7M101 237.5h2M104 237.5h3M108 237.5h2M111 237.5h1M113 237.5h3M118 237.5h1M120 237.5h1M122 237.5h5M128 237.5h4M133 237.5h3M137 237.5h3M142 237.5h2M145 237.5h1M151 237.5h1M160 237.5h1M82 238.5h8M91 238.5h2M97 238.5h2M100 238.5h2M103 238.5h1M105 238.5h1M107 238.5h1M109 238.5h4M114 238.5h1M116 238.5h3M120 238.5h7M128 238.5h9M138 238.5h3M143 238.5h1M147 238.5h1M151 238.5h1M154 238.5h1M82 239.5h1M84 239.5h2M87 239.5h2M90 239.5h8M99 239.5h1M103 239.5h5M109 239.5h1M111 239.5h1M114 239.5h11M127 239.5h2M130 239.5h1M133 239.5h1M136 239.5h4M142 239.5h2M157 239.5h1M82 240.5h3M86 240.5h3M91 240.5h7M99 240.5h2M102 240.5h6M111 240.5h6M118 240.5h3M122 240.5h2M126 240.5h1M129 240.5h1M133 240.5h1M138 240.5h2M144 240.5h1M146 240.5h1M149 240.5h2M154 240.5h1M82 241.5h3M86 241.5h1M88 241.5h4M93 241.5h4M98 241.5h7M107 241.5h1M109 241.5h3M113 241.5h1M115 241.5h1M117 241.5h1M121 241.5h3M125 241.5h1M127 241.5h3M137 241.5h3M145 241.5h1M82 242.5h1M84 242.5h7M92 242.5h6M99 242.5h10M110 242.5h7M118 242.5h2M124 242.5h2M127 242.5h1M135 242.5h1M140 242.5h1M142 242.5h1M147 242.5h1M82 243.5h2M86 243.5h3M91 243.5h3M95 243.5h3M99 243.5h1M102 243.5h4M107 243.5h3M111 243.5h3M115 243.5h1M117 243.5h1M121 243.5h1M124 243.5h2M129 243.5h1M134 243.5h2M141 243.5h1M148 243.5h2M82 244.5h3M87 244.5h1M89 244.5h6M97 244.5h4M103 244.5h8M114 244.5h1M116 244.5h3M122 244.5h1M124 244.5h1M127 244.5h1M130 244.5h1M150 244.5h1M160 244.5h1M82 245.5h1M84 245.5h2M87 245.5h7M95 245.5h3M100 245.5h3M104 245.5h4M109 245.5h2M112 245.5h1M114 245.5h2M120 245.5h1M131 245.5h1M134 245.5h1M139 245.5h1M82 246.5h3M86 246.5h2M89 246.5h2M92 246.5h1M94 246.5h2M97 246.5h6M104 246.5h2M107 246.5h1M109 246.5h1M112 246.5h2M116 246.5h1M121 246.5h1M130 246.5h1M154 246.5h1M82 247.5h1M84 247.5h1M87 247.5h2M91 247.5h1M93 247.5h1M99 247.5h4M105 247.5h1M108 247.5h1M110 247.5h2M114 247.5h1M120 247.5h1M144 247.5h1M147 247.5h1M82 248.5h1M84 248.5h3M88 248.5h1M90 248.5h3M95 248.5h3M99 248.5h3M105 248.5h1M107 248.5h1M114 248.5h1M122 248.5h1M124 248.5h2M150 248.5h1M152 248.5h1M82 249.5h2M85 249.5h3M89 249.5h4M96 249.5h4M101 249.5h1M103 249.5h1M105 249.5h1M108 249.5h2M130 249.5h1M136 249.5h1M143 249.5h1M82 250.5h3M86 250.5h3M92 250.5h1M94 250.5h6M101 250.5h2M106 250.5h3M110 250.5h2M114 250.5h2M118 250.5h1M126 250.5h1M146 250.5h2M151 250.5h1M155 250.5h1M82 251.5h1M85 251.5h3M89 251.5h1M92 251.5h2M97 251.5h1M100 251.5h2M103 251.5h1M106 251.5h1M110 251.5h2M115 251.5h1M117 251.5h1M135 251.5h1M143 251.5h1M146 251.5h1M151 251.5h1M83 252.5h4M91 252.5h1M93 252.5h1M96 252.5h1M101 252.5h1M103 252.5h2M118 252.5h1M121 252.5h1M124 252.5h1M133 252.5h2M159 252.5h1M82 253.5h5M91 253.5h2M94 253.5h1M96 253.5h1M98 253.5h4M103 253.5h1M106 253.5h2M109 253.5h1M115 253.5h1M119 253.5h2M129 253.5h3M82 254.5h1M85 254.5h1M87 254.5h1M91 254.5h2M95 254.5h3M100 254.5h1M102 254.5h1M105 254.5h1M108 254.5h1M112 254.5h1M114 254.5h1M119 254.5h1M122 254.5h1M84 255.5h1M87 255.5h3M91 255.5h4M96 255.5h1M99 255.5h1M105 255.5h1M107 255.5h2M112 255.5h1M115 255.5h1M119 255.5h1M127 255.5h1M132 255.5h1M137 255.5h1M82 256.5h7M91 256.5h2M97 256.5h8M107 256.5h1M109 256.5h1M114 256.5h1M117 256.5h1M137 256.5h1M158 256.5h1M86 257.5h3M93 257.5h1M96 257.5h2M99 257.5h3M103 257.5h3M107 257.5h1M112 257.5h1M117 257.5h1M120 257.5h1M146 257.5h1M148 257.5h2M82 258.5h1M84 258.5h9M94 258.5h2M97 258.5h2M101 258.5h1M103 258.5h2M116 258.5h1M124 258.5h1M141 258.5h2M82 259.5h11M95 259.5h2M100 259.5h1M104 259.5h1M106 259.5h2M109 259.5h1M115 259.5h1M132 259.5h1M135 259.5h1M156 259.5h1M82 260.5h2M85 260.5h2M90 260.5h3M96 260.5h1M98 260.5h2M103 260.5h3M108 260.5h1M114 260.5h1M121 260.5h1M144 260.5h1M148 260.5h1M82 261.5h5M89 261.5h1M91 261.5h3M95 261.5h2M100 261.5h4M106 261.5h1M108 261.5h1M117 261.5h1M121 261.5h1M127 261.5h1M134 261.5h2M137 261.5h1M151 261.5h1M82 262.5h5M88 262.5h2M92 262.5h1M95 262.5h1M97 262.5h1M99 262.5h2M102 262.5h1M105 262.5h1M107 262.5h1M128 262.5h1M140 262.5h1M156 262.5h1M159 262.5h1M83 263.5h3M87 263.5h4M92 263.5h1M94 263.5h2M98 263.5h1M103 263.5h1M105 263.5h1M126 263.5h1M130 263.5h2M82 264.5h2M85 264.5h2M88 264.5h1M92 264.5h4M101 264.5h1M112 264.5h1M124 264.5h1M132 264.5h1M141 264.5h1M151 264.5h1M83 265.5h1M85 265.5h7M95 265.5h5M118 265.5h1M135 265.5h1M137 265.5h2M141 265.5h2M147 265.5h1M82 266.5h1M85 266.5h3M92 266.5h3M96 266.5h1M98 266.5h1M101 266.5h1M104 266.5h1M107 266.5h1M117 266.5h1M130 266.5h1M142 266.5h2M149 266.5h1" stroke="#000" stroke-width="1" shape-rendering="crispEdges"/><path d="M81.25 162.75V267H184.25M81.25 267v3M89.00 267v1.6M93.54 267v1.6M96.75 267v1.6M99.25 267v1.6M101.29 267v1.6M103.01 267v1.6M104.50 267v1.6M105.82 267v1.6M107.00 267v3M114.75 267v1.6M119.29 267v1.6M122.50 267v1.6M125.00 267v1.6M127.04 267v1.6M128.76 267v1.6M130.25 267v1.6M131.57 267v1.6M132.75 267v3M140.50 267v1.6M145.04 267v1.6M148.25 267v1.6M150.75 267v1.6M152.79 267v1.6M154.51 267v1.6M156.00 267v1.6M157.32 267v1.6M158.50 267v3M166.25 267v1.6M170.79 267v1.6M174.00 267v1.6M176.50 267v1.6M178.54 267v1.6M180.26 267v1.6M181.75 267v1.6M183.07 267v1.6M184.25 267v3M81.25 165.75h-2.5M81.25 183.43h-1.5M81.25 178.98h-1.5M81.25 175.82h-1.5M81.25 173.37h-1.5M81.25 171.36h-1.5M81.25 169.67h-1.5M81.25 168.20h-1.5M81.25 166.91h-1.5M81.25 191.05h-2.5M81.25 208.73h-1.5M81.25 204.28h-1.5M81.25 201.12h-1.5M81.25 198.67h-1.5M81.25 196.66h-1.5M81.25 194.97h-1.5M81.25 193.50h-1.5M81.25 192.21h-1.5M81.25 216.35h-2.5M81.25 234.03h-1.5M81.25 229.58h-1.5M81.25 226.42h-1.5M81.25 223.97h-1.5M81.25 221.96h-1.5M81.25 220.27h-1.5M81.25 218.80h-1.5M81.25 217.51h-1.5M81.25 241.65h-2.5M81.25 259.33h-1.5M81.25 254.88h-1.5M81.25 251.72h-1.5M81.25 249.27h-1.5M81.25 247.26h-1.5M81.25 245.57h-1.5M81.25 244.10h-1.5M81.25 242.81h-1.5" stroke="#111" stroke-width="1.1" fill="none"/><text x="64.43" y="168.10" font-size="7.20" textLength="7.40" lengthAdjust="spacingAndGlyphs" font-family="'Liberation Sans', Arial, sans-serif" font-weight="bold" stroke="#000" stroke-width="0.5">10</text><text x="73.3" y="164.05" font-size="4.6" font-family="'Liberation Sans', Arial, sans-serif" font-weight="bold" stroke="#000" stroke-width="0.3">4</text><text x="64.43" y="190.90" font-size="7.20" textLength="7.40" lengthAdjust="spacingAndGlyphs" font-family="'Liberation Sans', Arial, sans-serif" font-weight="bold" stroke="#000" stroke-width="0.5">10</text><text x="73.3" y="186.85" font-size="4.6" font-family="'Liberation Sans', Arial, sans-serif" font-weight="bold" stroke="#000" stroke-width="0.3">3</text><text x="64.43" y="216.80" font-size="7.20" textLength="7.40" lengthAdjust="spacingAndGlyphs" font-family="'Liberation Sans', Arial, sans-serif" font-weight="bold" stroke="#000" stroke-width="0.5">10</text><text x="73.3" y="212.75" font-size="4.6" font-family="'Liberation Sans', Arial, sans-serif" font-weight="bold" stroke="#000" stroke-width="0.3">2</text><text x="64.43" y="243.00" font-size="7.20" textLength="7.40" lengthAdjust="spacingAndGlyphs" font-family="'Liberation Sans', Arial, sans-serif" font-weight="bold" stroke="#000" stroke-width="0.5">10</text><text x="73.3" y="238.95" font-size="4.6" font-family="'Liberation Sans', Arial, sans-serif" font-weight="bold" stroke="#000" stroke-width="0.3">1</text><text x="153.73" y="260.95" font-size="10.00" textLength="22.69" lengthAdjust="spacingAndGlyphs" font-family="'Liberation Sans', Arial, sans-serif" font-weight="bold" stroke="#000" stroke-width="0.3">3.5%</text><path d="M81.25 336.5H184.25M108.5 286.25V390.5" stroke="#222" stroke-width="1" fill="none"/><path d="M82 287.5h1M99 287.5h1M102 287.5h1M108 287.5h1M111 287.5h1M116 287.5h1M119 287.5h2M122 287.5h19M142 287.5h9M95 288.5h1M99 288.5h1M101 288.5h1M103 288.5h1M112 288.5h1M115 288.5h1M117 288.5h4M122 288.5h30M153 288.5h1M159 288.5h1M89 289.5h1M92 289.5h1M99 289.5h1M101 289.5h2M109 289.5h1M114 289.5h2M117 289.5h1M120 289.5h35M160 289.5h1M85 290.5h1M92 290.5h1M95 290.5h1M99 290.5h1M112 290.5h4M117 290.5h1M119 290.5h20M140 290.5h14M155 290.5h1M85 291.5h1M93 291.5h1M98 291.5h2M107 291.5h1M110 291.5h1M112 291.5h1M114 291.5h1M116 291.5h2M120 291.5h22M143 291.5h11M155 291.5h1M158 291.5h2M82 292.5h1M85 292.5h1M87 292.5h1M90 292.5h1M96 292.5h1M102 292.5h2M107 292.5h1M113 292.5h1M118 292.5h1M120 292.5h37M88 293.5h1M95 293.5h1M104 293.5h1M112 293.5h1M114 293.5h42M91 294.5h1M94 294.5h2M100 294.5h1M104 294.5h1M109 294.5h1M113 294.5h1M115 294.5h4M120 294.5h34M155 294.5h2M163 294.5h1M83 295.5h1M86 295.5h1M89 295.5h2M93 295.5h1M95 295.5h1M107 295.5h1M109 295.5h1M115 295.5h3M119 295.5h3M123 295.5h2M126 295.5h31M163 295.5h1M88 296.5h2M94 296.5h1M96 296.5h1M99 296.5h1M107 296.5h1M110 296.5h1M113 296.5h2M118 296.5h29M148 296.5h1M150 296.5h5M156 296.5h1M159 296.5h2M107 297.5h1M115 297.5h41M157 297.5h3M89 298.5h2M95 298.5h1M98 298.5h1M106 298.5h3M111 298.5h1M113 298.5h7M121 298.5h33M156 298.5h1M159 298.5h2M163 298.5h2M88 299.5h2M94 299.5h1M97 299.5h1M101 299.5h1M103 299.5h1M105 299.5h3M109 299.5h5M115 299.5h1M117 299.5h6M124 299.5h1M126 299.5h11M138 299.5h17M156 299.5h1M158 299.5h2M165 299.5h1M84 300.5h1M86 300.5h1M89 300.5h1M91 300.5h1M98 300.5h1M103 300.5h2M106 300.5h1M109 300.5h1M111 300.5h1M114 300.5h9M124 300.5h1M126 300.5h15M142 300.5h17M162 300.5h1M86 301.5h1M89 301.5h1M93 301.5h1M99 301.5h1M102 301.5h1M104 301.5h2M109 301.5h7M117 301.5h2M120 301.5h1M122 301.5h1M124 301.5h34M160 301.5h1M86 302.5h1M88 302.5h2M96 302.5h1M102 302.5h1M109 302.5h1M111 302.5h2M115 302.5h10M127 302.5h10M138 302.5h15M156 302.5h1M162 302.5h1M164 302.5h1M83 303.5h1M85 303.5h1M87 303.5h1M91 303.5h1M96 303.5h1M103 303.5h2M106 303.5h1M109 303.5h1M113 303.5h1M117 303.5h2M120 303.5h1M122 303.5h17M140 303.5h10M151 303.5h5M157 303.5h1M159 303.5h1M82 304.5h1M89 304.5h1M92 304.5h1M94 304.5h1M96 304.5h1M98 304.5h1M100 304.5h2M103 304.5h1M105 304.5h6M112 304.5h5M118 304.5h3M122 304.5h1M124 304.5h3M128 304.5h2M131 304.5h4M136 304.5h11M148 304.5h8M83 305.5h1M85 305.5h1M88 305.5h1M92 305.5h2M95 305.5h2M98 305.5h4M104 305.5h2M107 305.5h1M109 305.5h1M111 305.5h2M114 305.5h2M117 305.5h1M119 305.5h3M123 305.5h9M134 305.5h19M155 305.5h1M158 305.5h1M162 305.5h1M82 306.5h4M88 306.5h1M90 306.5h2M93 306.5h9M104 306.5h1M106 306.5h1M108 306.5h2M111 306.5h4M119 306.5h1M122 306.5h1M124 306.5h1M126 306.5h1M128 306.5h1M130 306.5h2M133 306.5h2M136 306.5h17M155 306.5h3M161 306.5h1M164 306.5h1M82 307.5h25M111 307.5h3M115 307.5h3M121 307.5h2M124 307.5h1M127 307.5h3M131 307.5h1M133 307.5h1M135 307.5h21M158 307.5h1M160 307.5h4M82 308.5h22M105 308.5h6M112 308.5h3M116 308.5h1M118 308.5h3M124 308.5h10M136 308.5h1M138 308.5h2M141 308.5h3M145 308.5h9M155 308.5h1M159 308.5h2M162 308.5h1M82 309.5h28M111 309.5h2M114 309.5h2M117 309.5h5M123 309.5h3M127 309.5h2M130 309.5h4M135 309.5h9M145 309.5h10M161 309.5h1M82 310.5h29M112 310.5h2M115 310.5h3M121 310.5h7M129 310.5h1M134 310.5h1M137 310.5h8M146 310.5h3M150 310.5h9M160 310.5h1M82 311.5h27M111 311.5h5M118 311.5h1M122 311.5h3M126 311.5h2M130 311.5h4M135 311.5h24M161 311.5h1M82 312.5h5M88 312.5h21M110 312.5h2M113 312.5h9M123 312.5h2M126 312.5h3M130 312.5h23M154 312.5h2M160 312.5h1M82 313.5h44M127 313.5h7M135 313.5h1M137 313.5h19M166 313.5h1M82 314.5h24M107 314.5h10M118 314.5h4M123 314.5h4M128 314.5h8M137 314.5h15M154 314.5h1M157 314.5h1M82 315.5h24M107 315.5h18M126 315.5h30M157 315.5h2M160 315.5h2M82 316.5h7M90 316.5h8M99 316.5h31M131 316.5h7M139 316.5h17M158 316.5h1M160 316.5h1M82 317.5h58M141 317.5h14M82 318.5h53M136 318.5h7M144 318.5h10M155 318.5h1M82 319.5h4M87 319.5h31M119 319.5h3M123 319.5h21M145 319.5h5M151 319.5h2M154 319.5h2M82 320.5h52M135 320.5h18M156 320.5h1M158 320.5h1M82 321.5h30M113 321.5h19M133 321.5h5M139 321.5h9M149 321.5h4M154 321.5h1M82 322.5h46M129 322.5h18M148 322.5h6M160 322.5h1M82 323.5h38M121 323.5h6M128 323.5h2M132 323.5h23M156 323.5h1M82 324.5h49M132 324.5h6M139 324.5h5M145 324.5h10M157 324.5h1M160 324.5h1M170 324.5h1M82 325.5h27M110 325.5h17M128 325.5h1M130 325.5h24M155 325.5h1M159 325.5h1M166 325.5h1M82 326.5h54M137 326.5h17M155 326.5h1M162 326.5h1M82 327.5h2M85 327.5h3M89 327.5h68M82 328.5h46M129 328.5h17M147 328.5h10M167 328.5h1M82 329.5h12M95 329.5h5M101 329.5h32M134 329.5h3M138 329.5h1M140 329.5h15M157 329.5h1M82 330.5h9M93 330.5h3M97 330.5h23M121 330.5h3M125 330.5h5M131 330.5h5M137 330.5h6M144 330.5h11M162 330.5h1M82 331.5h2M86 331.5h1M89 331.5h1M91 331.5h9M102 331.5h8M111 331.5h6M118 331.5h4M123 331.5h4M128 331.5h2M131 331.5h2M134 331.5h1M137 331.5h8M146 331.5h9M157 331.5h1M160 331.5h1M82 332.5h5M88 332.5h5M95 332.5h3M100 332.5h1M103 332.5h4M109 332.5h5M116 332.5h12M129 332.5h2M132 332.5h3M136 332.5h1M140 332.5h4M145 332.5h3M149 332.5h5M159 332.5h2M84 333.5h1M86 333.5h4M91 333.5h3M95 333.5h2M98 333.5h1M100 333.5h2M104 333.5h2M108 333.5h3M112 333.5h4M117 333.5h1M123 333.5h2M126 333.5h4M131 333.5h3M135 333.5h1M138 333.5h3M144 333.5h2M148 333.5h5M154 333.5h2M157 333.5h1M159 333.5h1M83 334.5h2M89 334.5h2M93 334.5h1M95 334.5h1M97 334.5h4M103 334.5h1M105 334.5h4M111 334.5h1M113 334.5h2M116 334.5h1M121 334.5h1M124 334.5h1M126 334.5h2M129 334.5h1M132 334.5h1M135 334.5h2M138 334.5h2M141 334.5h1M143 334.5h5M149 334.5h1M151 334.5h4M90 335.5h5M97 335.5h1M103 335.5h4M109 335.5h2M112 335.5h6M123 335.5h1M126 335.5h1M128 335.5h1M130 335.5h3M135 335.5h3M139 335.5h1M141 335.5h1M144 335.5h2M147 335.5h5M153 335.5h2M156 335.5h1M82 336.5h6M91 336.5h1M93 336.5h2M96 336.5h2M99 336.5h1M104 336.5h4M109 336.5h2M112 336.5h1M116 336.5h1M118 336.5h1M121 336.5h3M127 336.5h3M131 336.5h2M134 336.5h2M137 336.5h1M139 336.5h4M146 336.5h1M148 336.5h8M157 336.5h1M83 337.5h7M91 337.5h1M94 337.5h5M105 337.5h1M107 337.5h3M111 337.5h1M113 337.5h3M117 337.5h1M120 337.5h1M123 337.5h1M125 337.5h1M128 337.5h2M131 337.5h2M136 337.5h1M139 337.5h1M141 337.5h2M144 337.5h2M147 337.5h4M153 337.5h4M158 337.5h1M83 338.5h3M88 338.5h2M91 338.5h3M95 338.5h1M101 338.5h2M107 338.5h1M113 338.5h1M117 338.5h1M119 338.5h2M124 338.5h2M127 338.5h2M131 338.5h1M133 338.5h2M140 338.5h5M146 338.5h5M152 338.5h4M158 338.5h1M82 339.5h10M93 339.5h1M96 339.5h3M106 339.5h1M109 339.5h3M114 339.5h1M116 339.5h2M124 339.5h1M128 339.5h2M132 339.5h1M135 339.5h1M137 339.5h1M139 339.5h1M141 339.5h2M144 339.5h6M151 339.5h2M156 339.5h2M167 339.5h1M82 340.5h1M86 340.5h9M97 340.5h2M101 340.5h1M105 340.5h2M108 340.5h1M112 340.5h3M122 340.5h1M125 340.5h2M128 340.5h1M130 340.5h2M134 340.5h1M137 340.5h3M141 340.5h1M143 340.5h2M146 340.5h3M150 340.5h1M152 340.5h4M157 340.5h1M159 340.5h1M169 340.5h1M82 341.5h6M90 341.5h3M97 341.5h3M101 341.5h2M104 341.5h2M108 341.5h2M114 341.5h1M117 341.5h3M136 341.5h4M142 341.5h1M144 341.5h5M151 341.5h4M156 341.5h3M163 341.5h1M84 342.5h3M88 342.5h1M90 342.5h6M97 342.5h2M101 342.5h1M103 342.5h1M106 342.5h4M115 342.5h1M117 342.5h2M123 342.5h2M132 342.5h1M138 342.5h1M140 342.5h2M144 342.5h1M146 342.5h2M149 342.5h12M82 343.5h2M85 343.5h2M89 343.5h2M93 343.5h7M101 343.5h1M105 343.5h1M107 343.5h2M111 343.5h4M123 343.5h1M128 343.5h1M130 343.5h3M139 343.5h2M143 343.5h1M146 343.5h1M149 343.5h1M151 343.5h3M155 343.5h2M160 343.5h1M163 343.5h1M167 343.5h1M82 344.5h4M87 344.5h3M91 344.5h5M97 344.5h2M100 344.5h1M102 344.5h1M107 344.5h1M115 344.5h1M121 344.5h1M124 344.5h1M129 344.5h1M132 344.5h1M137 344.5h1M141 344.5h1M143 344.5h3M149 344.5h2M152 344.5h4M160 344.5h1M82 345.5h3M86 345.5h3M90 345.5h2M93 345.5h5M99 345.5h1M101 345.5h1M107 345.5h1M110 345.5h3M114 345.5h1M117 345.5h3M121 345.5h1M123 345.5h3M128 345.5h1M133 345.5h1M140 345.5h1M142 345.5h2M148 345.5h1M150 345.5h5M157 345.5h1M159 345.5h1M162 345.5h1M82 346.5h5M88 346.5h1M90 346.5h1M92 346.5h3M97 346.5h2M103 346.5h2M107 346.5h2M111 346.5h2M114 346.5h1M116 346.5h1M118 346.5h1M123 346.5h1M126 346.5h1M128 346.5h1M131 346.5h2M137 346.5h3M142 346.5h1M148 346.5h10M161 346.5h1M82 347.5h4M88 347.5h5M94 347.5h1M96 347.5h1M101 347.5h1M109 347.5h1M112 347.5h4M117 347.5h1M119 347.5h1M122 347.5h1M124 347.5h2M127 347.5h3M132 347.5h1M135 347.5h3M141 347.5h1M143 347.5h1M148 347.5h2M151 347.5h2M155 347.5h3M160 347.5h1M83 348.5h5M89 348.5h1M93 348.5h1M96 348.5h2M102 348.5h3M107 348.5h2M112 348.5h1M115 348.5h2M118 348.5h1M121 348.5h2M125 348.5h1M127 348.5h2M140 348.5h1M144 348.5h1M146 348.5h5M152 348.5h1M155 348.5h1M157 348.5h2M83 349.5h8M92 349.5h3M98 349.5h2M101 349.5h2M105 349.5h2M109 349.5h1M112 349.5h1M116 349.5h1M118 349.5h2M122 349.5h1M124 349.5h2M129 349.5h2M132 349.5h2M135 349.5h1M138 349.5h1M143 349.5h1M145 349.5h1M147 349.5h8M156 349.5h1M82 350.5h4M87 350.5h3M91 350.5h4M98 350.5h1M100 350.5h1M102 350.5h1M104 350.5h1M110 350.5h2M114 350.5h2M118 350.5h2M122 350.5h2M125 350.5h1M127 350.5h1M130 350.5h2M141 350.5h1M143 350.5h2M148 350.5h7M157 350.5h2M82 351.5h8M92 351.5h6M100 351.5h3M104 351.5h2M112 351.5h2M115 351.5h1M121 351.5h5M130 351.5h1M132 351.5h1M136 351.5h3M142 351.5h1M144 351.5h1M148 351.5h2M151 351.5h1M153 351.5h5M159 351.5h1M82 352.5h4M87 352.5h4M92 352.5h1M94 352.5h2M97 352.5h1M100 352.5h2M107 352.5h2M110 352.5h1M113 352.5h3M124 352.5h3M135 352.5h1M137 352.5h1M139 352.5h1M141 352.5h1M147 352.5h2M150 352.5h2M153 352.5h2M158 352.5h1M82 353.5h5M88 353.5h1M91 353.5h4M97 353.5h1M100 353.5h1M104 353.5h1M110 353.5h6M121 353.5h2M125 353.5h3M129 353.5h2M137 353.5h3M142 353.5h1M146 353.5h8M155 353.5h3M82 354.5h3M86 354.5h1M88 354.5h2M92 354.5h1M95 354.5h1M103 354.5h1M105 354.5h1M108 354.5h1M110 354.5h1M112 354.5h1M118 354.5h5M124 354.5h2M127 354.5h6M135 354.5h1M137 354.5h1M140 354.5h1M142 354.5h1M146 354.5h1M148 354.5h6M156 354.5h1M158 354.5h1M161 354.5h1M163 354.5h1M83 355.5h15M99 355.5h2M102 355.5h2M106 355.5h1M108 355.5h1M110 355.5h2M115 355.5h1M117 355.5h1M120 355.5h1M123 355.5h2M127 355.5h1M131 355.5h1M133 355.5h3M138 355.5h2M146 355.5h1M148 355.5h1M151 355.5h6M163 355.5h1M82 356.5h7M90 356.5h1M92 356.5h6M100 356.5h1M108 356.5h1M110 356.5h2M113 356.5h1M115 356.5h2M118 356.5h5M124 356.5h3M129 356.5h2M133 356.5h1M143 356.5h1M146 356.5h1M148 356.5h3M152 356.5h2M155 356.5h2M82 357.5h1M84 357.5h3M88 357.5h8M97 357.5h2M103 357.5h2M108 357.5h1M111 357.5h1M114 357.5h1M116 357.5h1M119 357.5h3M124 357.5h1M127 357.5h1M130 357.5h2M133 357.5h1M140 357.5h4M145 357.5h1M147 357.5h1M151 357.5h1M155 357.5h1M82 358.5h4M87 358.5h10M99 358.5h2M103 358.5h1M105 358.5h1M107 358.5h2M112 358.5h1M121 358.5h1M127 358.5h1M129 358.5h1M134 358.5h3M142 358.5h2M150 358.5h3M163 358.5h1M82 359.5h17M100 359.5h1M102 359.5h3M107 359.5h1M111 359.5h1M113 359.5h3M117 359.5h1M120 359.5h1M125 359.5h1M127 359.5h1M130 359.5h1M133 359.5h1M137 359.5h4M142 359.5h1M148 359.5h1M151 359.5h2M160 359.5h1M82 360.5h9M93 360.5h4M98 360.5h1M103 360.5h1M109 360.5h2M112 360.5h1M114 360.5h1M116 360.5h3M121 360.5h1M124 360.5h1M126 360.5h2M129 360.5h2M132 360.5h1M136 360.5h1M141 360.5h2M154 360.5h1M82 361.5h6M89 361.5h8M98 361.5h4M107 361.5h1M114 361.5h1M116 361.5h1M118 361.5h3M122 361.5h1M124 361.5h1M126 361.5h1M128 361.5h1M130 361.5h1M132 361.5h3M139 361.5h2M143 361.5h1M154 361.5h1M159 361.5h1M82 362.5h9M92 362.5h3M97 362.5h1M99 362.5h1M105 362.5h1M107 362.5h3M111 362.5h1M114 362.5h3M120 362.5h1M125 362.5h1M130 362.5h1M133 362.5h1M136 362.5h3M140 362.5h1M143 362.5h1M145 362.5h2M148 362.5h1M152 362.5h1M155 362.5h1M163 362.5h1M82 363.5h6M89 363.5h9M103 363.5h1M107 363.5h2M113 363.5h1M115 363.5h2M118 363.5h1M120 363.5h1M122 363.5h3M126 363.5h1M128 363.5h3M132 363.5h1M137 363.5h1M141 363.5h1M143 363.5h2M82 364.5h1M84 364.5h14M99 364.5h6M106 364.5h5M112 364.5h1M117 364.5h3M122 364.5h1M124 364.5h1M126 364.5h1M128 364.5h1M131 364.5h1M136 364.5h1M138 364.5h2M144 364.5h1M155 364.5h1M82 365.5h5M88 365.5h1M90 365.5h7M98 365.5h1M102 365.5h3M107 365.5h1M110 365.5h1M113 365.5h3M120 365.5h2M124 365.5h1M127 365.5h1M132 365.5h2M136 365.5h1M138 365.5h1M142 365.5h2M149 365.5h1M151 365.5h1M82 366.5h2M86 366.5h10M98 366.5h4M105 366.5h1M110 366.5h1M115 366.5h1M117 366.5h1M120 366.5h1M123 366.5h2M130 366.5h1M132 366.5h2M137 366.5h1M141 366.5h3M150 366.5h1M82 367.5h13M96 367.5h1M98 367.5h1M100 367.5h1M104 367.5h1M107 367.5h1M109 367.5h1M111 367.5h1M117 367.5h1M119 367.5h1M121 367.5h2M132 367.5h1M135 367.5h1M137 367.5h2M144 367.5h1M148 367.5h1M152 367.5h1M155 367.5h2M82 368.5h3M86 368.5h7M94 368.5h4M100 368.5h1M102 368.5h1M104 368.5h3M112 368.5h1M114 368.5h2M118 368.5h1M121 368.5h2M126 368.5h1M128 368.5h2M131 368.5h1M133 368.5h1M135 368.5h1M137 368.5h2M140 368.5h1M147 368.5h1M154 368.5h2M158 368.5h1M82 369.5h13M96 369.5h1M100 369.5h3M106 369.5h2M110 369.5h1M112 369.5h1M118 369.5h2M121 369.5h1M124 369.5h1M127 369.5h4M134 369.5h1M137 369.5h3M154 369.5h2M163 369.5h1M82 370.5h16M101 370.5h2M107 370.5h1M111 370.5h1M114 370.5h1M118 370.5h3M122 370.5h1M125 370.5h3M129 370.5h1M131 370.5h3M135 370.5h1M138 370.5h1M157 370.5h1M82 371.5h8M91 371.5h1M93 371.5h2M96 371.5h1M99 371.5h3M104 371.5h2M107 371.5h1M109 371.5h1M113 371.5h2M117 371.5h1M123 371.5h1M125 371.5h1M129 371.5h1M131 371.5h1M137 371.5h1M140 371.5h1M82 372.5h2M86 372.5h3M90 372.5h7M98 372.5h3M102 372.5h3M106 372.5h1M110 372.5h2M113 372.5h5M122 372.5h1M129 372.5h1M132 372.5h1M139 372.5h2M163 372.5h2M82 373.5h14M97 373.5h1M99 373.5h1M101 373.5h2M106 373.5h4M111 373.5h1M113 373.5h1M116 373.5h1M118 373.5h1M120 373.5h2M123 373.5h1M127 373.5h1M129 373.5h1M134 373.5h1M159 373.5h1M82 374.5h5M88 374.5h1M90 374.5h3M94 374.5h3M100 374.5h1M103 374.5h1M105 374.5h2M108 374.5h1M111 374.5h2M124 374.5h2M132 374.5h1M146 374.5h2M151 374.5h1M156 374.5h1M158 374.5h1M82 375.5h11M94 375.5h1M96 375.5h3M103 375.5h2M107 375.5h1M125 375.5h1M137 375.5h1M142 375.5h1M82 376.5h15M99 376.5h2M102 376.5h1M107 376.5h2M114 376.5h2M117 376.5h3M121 376.5h1M124 376.5h1M128 376.5h1M131 376.5h1M145 376.5h1M82 377.5h8M91 377.5h2M94 377.5h3M98 377.5h2M102 377.5h2M107 377.5h1M109 377.5h1M111 377.5h1M113 377.5h2M118 377.5h3M122 377.5h3M126 377.5h2M129 377.5h1M132 377.5h2M142 377.5h1M145 377.5h1M152 377.5h1M82 378.5h6M89 378.5h3M94 378.5h1M98 378.5h1M100 378.5h1M106 378.5h1M110 378.5h1M112 378.5h1M115 378.5h3M119 378.5h1M138 378.5h1M149 378.5h1M151 378.5h1M82 379.5h12M96 379.5h5M103 379.5h1M108 379.5h1M118 379.5h1M121 379.5h1M123 379.5h2M145 379.5h1M82 380.5h2M85 380.5h6M93 380.5h2M97 380.5h1M105 380.5h2M109 380.5h2M114 380.5h3M119 380.5h1M121 380.5h1M125 380.5h2M131 380.5h1M133 380.5h1M82 381.5h13M96 381.5h4M101 381.5h1M107 381.5h1M109 381.5h1M122 381.5h1M128 381.5h1M132 381.5h1M138 381.5h1M142 381.5h1M151 381.5h1M82 382.5h4M87 382.5h5M93 382.5h2M96 382.5h2M101 382.5h1M106 382.5h1M110 382.5h1M112 382.5h1M115 382.5h1M117 382.5h1M119 382.5h1M130 382.5h1M147 382.5h1M82 383.5h5M88 383.5h1M90 383.5h3M95 383.5h1M97 383.5h2M100 383.5h1M103 383.5h1M105 383.5h1M107 383.5h1M117 383.5h1M119 383.5h1M122 383.5h1M128 383.5h1M149 383.5h1M82 384.5h1M84 384.5h9M94 384.5h6M106 384.5h2M117 384.5h2M134 384.5h1M139 384.5h1M148 384.5h1M155 384.5h1M82 385.5h9M92 385.5h3M123 385.5h1M136 385.5h1M141 385.5h1M145 385.5h1M82 386.5h3M86 386.5h4M91 386.5h4M98 386.5h1M111 386.5h1M117 386.5h1M129 386.5h1M131 386.5h1M134 386.5h1M141 386.5h1M153 386.5h2M82 387.5h4M87 387.5h8M96 387.5h1M98 387.5h3M112 387.5h1M134 387.5h1M146 387.5h1M157 387.5h1M82 388.5h16M114 388.5h1M117 388.5h2M120 388.5h2M130 388.5h1M141 388.5h1M82 389.5h13M96 389.5h2M99 389.5h1M107 389.5h1M114 389.5h1M127 389.5h1M140 389.5h1M150 389.5h1M159 389.5h1M161 389.5h1M164 389.5h1" stroke="#000" stroke-width="1" shape-rendering="crispEdges"/><path d="M81.25 285.25V390.5H184.25M81.25 390.5v3M89.00 390.5v1.6M93.54 390.5v1.6M96.75 390.5v1.6M99.25 390.5v1.6M101.29 390.5v1.6M103.01 390.5v1.6M104.50 390.5v1.6M105.82 390.5v1.6M107.00 390.5v3M114.75 390.5v1.6M119.29 390.5v1.6M122.50 390.5v1.6M125.00 390.5v1.6M127.04 390.5v1.6M128.76 390.5v1.6M130.25 390.5v1.6M131.57 390.5v1.6M132.75 390.5v3M140.50 390.5v1.6M145.04 390.5v1.6M148.25 390.5v1.6M150.75 390.5v1.6M152.79 390.5v1.6M154.51 390.5v1.6M156.00 390.5v1.6M157.32 390.5v1.6M158.50 390.5v3M166.25 390.5v1.6M170.79 390.5v1.6M174.00 390.5v1.6M176.50 390.5v1.6M178.54 390.5v1.6M180.26 390.5v1.6M181.75 390.5v1.6M183.07 390.5v1.6M184.25 390.5v3M81.25 288.25h-2.5M81.25 305.93h-1.5M81.25 301.48h-1.5M81.25 298.32h-1.5M81.25 295.87h-1.5M81.25 293.86h-1.5M81.25 292.17h-1.5M81.25 290.70h-1.5M81.25 289.41h-1.5M81.25 313.55h-2.5M81.25 331.23h-1.5M81.25 326.78h-1.5M81.25 323.62h-1.5M81.25 321.17h-1.5M81.25 319.16h-1.5M81.25 317.47h-1.5M81.25 316.00h-1.5M81.25 314.71h-1.5M81.25 338.85h-2.5M81.25 356.53h-1.5M81.25 352.08h-1.5M81.25 348.92h-1.5M81.25 346.47h-1.5M81.25 344.46h-1.5M81.25 342.77h-1.5M81.25 341.30h-1.5M81.25 340.01h-1.5M81.25 364.15h-2.5M81.25 381.83h-1.5M81.25 377.38h-1.5M81.25 374.22h-1.5M81.25 371.77h-1.5M81.25 369.76h-1.5M81.25 368.07h-1.5M81.25 366.60h-1.5M81.25 365.31h-1.5" stroke="#111" stroke-width="1.1" fill="none"/><text x="64.43" y="290.60" font-size="7.20" textLength="7.40" lengthAdjust="spacingAndGlyphs" font-family="'Liberation Sans', Arial, sans-serif" font-weight="bold" stroke="#000" stroke-width="0.5">10</text><text x="73.3" y="286.55" font-size="4.6" font-family="'Liberation Sans', Arial, sans-serif" font-weight="bold" stroke="#000" stroke-width="0.3">4</text><text x="64.43" y="313.40" font-size="7.20" textLength="7.40" lengthAdjust="spacingAndGlyphs" font-family="'Liberation Sans', Arial, sans-serif" font-weight="bold" stroke="#000" stroke-width="0.5">10</text><text x="73.3" y="309.35" font-size="4.6" font-family="'Liberation Sans', Arial, sans-serif" font-weight="bold" stroke="#000" stroke-width="0.3">3</text><text x="64.43" y="339.30" font-size="7.20" textLength="7.40" lengthAdjust="spacingAndGlyphs" font-family="'Liberation Sans', Arial, sans-serif" font-weight="bold" stroke="#000" stroke-width="0.5">10</text><text x="73.3" y="335.25" font-size="4.6" font-family="'Liberation Sans', Arial, sans-serif" font-weight="bold" stroke="#000" stroke-width="0.3">2</text><text x="64.43" y="365.50" font-size="7.20" textLength="7.40" lengthAdjust="spacingAndGlyphs" font-family="'Liberation Sans', Arial, sans-serif" font-weight="bold" stroke="#000" stroke-width="0.5">10</text><text x="73.3" y="361.45" font-size="4.6" font-family="'Liberation Sans', Arial, sans-serif" font-weight="bold" stroke="#000" stroke-width="0.3">1</text><text x="154.13" y="383.55" font-size="10.00" textLength="22.59" lengthAdjust="spacingAndGlyphs" font-family="'Liberation Sans', Arial, sans-serif" font-weight="bold" stroke="#000" stroke-width="0.3">1.7%</text><path d="M81.25 458.5H184.25M108.5 408.75V512.5" stroke="#222" stroke-width="1" fill="none"/><path d="M108 409.5h1M117 409.5h1M121 409.5h1M129 409.5h12M142 409.5h4M95 410.5h1M112 410.5h2M115 410.5h1M121 410.5h1M129 410.5h3M133 410.5h11M147 410.5h1M149 410.5h1M83 411.5h1M94 411.5h1M109 411.5h1M115 411.5h1M120 411.5h1M125 411.5h1M127 411.5h20M150 411.5h1M95 412.5h1M107 412.5h1M110 412.5h1M113 412.5h1M115 412.5h1M128 412.5h16M146 412.5h1M148 412.5h1M91 413.5h1M109 413.5h1M112 413.5h2M126 413.5h13M140 413.5h8M149 413.5h2M99 414.5h1M111 414.5h1M119 414.5h1M126 414.5h3M130 414.5h14M145 414.5h4M150 414.5h3M156 414.5h1M86 415.5h1M107 415.5h1M110 415.5h1M119 415.5h1M121 415.5h2M124 415.5h24M149 415.5h2M152 415.5h2M90 416.5h1M112 416.5h2M116 416.5h1M120 416.5h1M124 416.5h17M142 416.5h7M150 416.5h1M153 416.5h1M109 417.5h1M111 417.5h2M123 417.5h2M126 417.5h23M150 417.5h4M155 417.5h1M157 417.5h1M105 418.5h1M112 418.5h1M122 418.5h11M134 418.5h18M108 419.5h1M113 419.5h1M118 419.5h1M120 419.5h1M123 419.5h30M154 419.5h2M107 420.5h1M111 420.5h1M113 420.5h2M118 420.5h1M122 420.5h32M105 421.5h1M110 421.5h1M117 421.5h1M122 421.5h34M101 422.5h1M120 422.5h3M124 422.5h32M121 423.5h19M141 423.5h5M147 423.5h6M156 423.5h1M85 424.5h1M105 424.5h1M108 424.5h1M121 424.5h33M85 425.5h2M91 425.5h2M94 425.5h1M96 425.5h2M106 425.5h1M113 425.5h1M122 425.5h33M82 426.5h1M88 426.5h3M94 426.5h1M97 426.5h1M102 426.5h2M106 426.5h1M114 426.5h2M118 426.5h1M121 426.5h1M123 426.5h23M147 426.5h5M153 426.5h1M82 427.5h9M92 427.5h1M94 427.5h3M98 427.5h8M110 427.5h1M115 427.5h1M123 427.5h2M126 427.5h28M82 428.5h18M101 428.5h7M110 428.5h3M115 428.5h1M117 428.5h2M123 428.5h13M137 428.5h16M154 428.5h2M160 428.5h1M82 429.5h34M117 429.5h1M119 429.5h2M122 429.5h1M124 429.5h24M149 429.5h5M82 430.5h34M117 430.5h1M119 430.5h1M122 430.5h1M124 430.5h28M154 430.5h1M156 430.5h1M82 431.5h40M124 431.5h26M154 431.5h1M156 431.5h1M82 432.5h42M125 432.5h30M157 432.5h1M82 433.5h10M93 433.5h56M150 433.5h3M154 433.5h1M82 434.5h39M122 434.5h31M82 435.5h5M88 435.5h50M139 435.5h14M82 436.5h32M115 436.5h39M82 437.5h33M116 437.5h1M118 437.5h9M128 437.5h1M130 437.5h25M82 438.5h8M91 438.5h28M120 438.5h1M122 438.5h6M129 438.5h2M133 438.5h19M153 438.5h2M82 439.5h15M98 439.5h22M121 439.5h5M127 439.5h4M132 439.5h21M82 440.5h34M117 440.5h11M129 440.5h2M132 440.5h23M82 441.5h35M118 441.5h8M127 441.5h26M154 441.5h1M157 441.5h1M82 442.5h35M118 442.5h6M125 442.5h28M82 443.5h72M82 444.5h43M126 444.5h19M146 444.5h8M82 445.5h38M121 445.5h33M155 445.5h1M82 446.5h28M111 446.5h15M127 446.5h15M143 446.5h4M148 446.5h4M153 446.5h1M82 447.5h32M115 447.5h7M123 447.5h32M82 448.5h31M114 448.5h3M118 448.5h12M131 448.5h23M82 449.5h32M115 449.5h3M119 449.5h36M82 450.5h8M91 450.5h20M112 450.5h38M151 450.5h5M82 451.5h71M82 452.5h39M122 452.5h31M154 452.5h1M82 453.5h1M84 453.5h36M121 453.5h8M130 453.5h6M137 453.5h1M139 453.5h14M83 454.5h6M90 454.5h1M92 454.5h3M96 454.5h9M106 454.5h13M120 454.5h1M122 454.5h2M127 454.5h1M129 454.5h1M131 454.5h1M133 454.5h21M158 454.5h2M162 454.5h1M83 455.5h5M90 455.5h5M96 455.5h4M101 455.5h4M107 455.5h1M109 455.5h1M111 455.5h1M113 455.5h2M116 455.5h2M119 455.5h1M121 455.5h1M123 455.5h3M127 455.5h5M134 455.5h2M138 455.5h4M143 455.5h2M146 455.5h4M151 455.5h3M156 455.5h1M87 456.5h6M95 456.5h2M98 456.5h3M103 456.5h11M115 456.5h5M121 456.5h1M123 456.5h1M125 456.5h1M127 456.5h2M130 456.5h2M133 456.5h2M136 456.5h4M142 456.5h12M82 457.5h1M85 457.5h2M88 457.5h3M94 457.5h1M96 457.5h1M98 457.5h1M100 457.5h1M102 457.5h2M107 457.5h4M112 457.5h1M114 457.5h1M117 457.5h2M122 457.5h1M126 457.5h1M128 457.5h2M131 457.5h1M135 457.5h1M138 457.5h1M141 457.5h4M146 457.5h9M82 458.5h4M87 458.5h2M90 458.5h1M94 458.5h1M96 458.5h1M98 458.5h1M100 458.5h7M109 458.5h5M116 458.5h1M118 458.5h1M120 458.5h4M127 458.5h1M130 458.5h4M142 458.5h4M147 458.5h7M155 458.5h1M157 458.5h1M84 459.5h1M87 459.5h2M90 459.5h8M99 459.5h1M101 459.5h1M104 459.5h5M110 459.5h1M112 459.5h1M118 459.5h2M122 459.5h2M125 459.5h2M128 459.5h1M131 459.5h1M134 459.5h2M138 459.5h2M141 459.5h4M146 459.5h13M82 460.5h2M86 460.5h6M93 460.5h1M95 460.5h2M98 460.5h1M100 460.5h1M106 460.5h1M108 460.5h1M111 460.5h1M113 460.5h5M119 460.5h1M123 460.5h1M125 460.5h1M129 460.5h2M132 460.5h1M137 460.5h1M142 460.5h4M147 460.5h9M158 460.5h2M85 461.5h2M89 461.5h3M96 461.5h1M98 461.5h1M100 461.5h3M105 461.5h2M113 461.5h1M116 461.5h1M121 461.5h1M128 461.5h1M131 461.5h2M134 461.5h1M139 461.5h2M144 461.5h7M152 461.5h4M157 461.5h1M159 461.5h1M82 462.5h5M88 462.5h4M94 462.5h3M98 462.5h3M102 462.5h1M104 462.5h1M106 462.5h2M111 462.5h1M113 462.5h1M126 462.5h4M134 462.5h1M138 462.5h1M140 462.5h2M145 462.5h8M155 462.5h3M159 462.5h2M84 463.5h4M90 463.5h4M97 463.5h2M102 463.5h2M107 463.5h1M109 463.5h1M111 463.5h2M115 463.5h2M121 463.5h1M126 463.5h2M130 463.5h3M134 463.5h2M137 463.5h1M140 463.5h1M142 463.5h6M149 463.5h10M83 464.5h6M91 464.5h1M93 464.5h1M95 464.5h3M99 464.5h1M101 464.5h1M104 464.5h1M106 464.5h1M109 464.5h2M114 464.5h1M126 464.5h1M128 464.5h1M133 464.5h1M143 464.5h2M146 464.5h11M158 464.5h1M83 465.5h8M92 465.5h2M96 465.5h1M98 465.5h1M100 465.5h1M103 465.5h1M105 465.5h1M107 465.5h6M114 465.5h1M123 465.5h1M126 465.5h1M131 465.5h1M135 465.5h1M140 465.5h1M143 465.5h1M145 465.5h13M82 466.5h2M86 466.5h3M90 466.5h4M95 466.5h1M97 466.5h1M100 466.5h1M105 466.5h1M107 466.5h1M113 466.5h3M119 466.5h3M128 466.5h1M134 466.5h1M137 466.5h1M141 466.5h8M150 466.5h8M161 466.5h1M82 467.5h2M85 467.5h2M88 467.5h4M93 467.5h3M98 467.5h1M100 467.5h1M102 467.5h1M104 467.5h4M110 467.5h2M121 467.5h1M128 467.5h1M134 467.5h3M145 467.5h6M152 467.5h5M85 468.5h2M88 468.5h1M90 468.5h2M93 468.5h2M96 468.5h2M99 468.5h2M102 468.5h1M105 468.5h2M112 468.5h2M119 468.5h1M126 468.5h2M129 468.5h1M132 468.5h2M135 468.5h3M142 468.5h11M154 468.5h4M83 469.5h1M85 469.5h2M89 469.5h1M91 469.5h3M96 469.5h2M101 469.5h5M107 469.5h1M110 469.5h2M114 469.5h1M119 469.5h1M121 469.5h1M127 469.5h1M131 469.5h1M134 469.5h1M140 469.5h1M145 469.5h9M155 469.5h1M157 469.5h2M160 469.5h1M82 470.5h4M88 470.5h1M91 470.5h5M99 470.5h2M102 470.5h4M109 470.5h1M111 470.5h2M114 470.5h1M116 470.5h1M118 470.5h1M120 470.5h2M125 470.5h5M132 470.5h1M134 470.5h1M137 470.5h1M139 470.5h1M146 470.5h6M153 470.5h4M158 470.5h2M84 471.5h5M90 471.5h4M98 471.5h1M103 471.5h1M105 471.5h2M109 471.5h1M111 471.5h1M114 471.5h1M117 471.5h1M119 471.5h2M123 471.5h2M132 471.5h1M134 471.5h1M138 471.5h1M140 471.5h1M145 471.5h5M151 471.5h5M157 471.5h1M82 472.5h3M86 472.5h13M102 472.5h1M104 472.5h3M108 472.5h1M110 472.5h1M115 472.5h3M122 472.5h1M124 472.5h1M126 472.5h1M133 472.5h1M135 472.5h1M138 472.5h1M142 472.5h2M146 472.5h11M158 472.5h1M82 473.5h10M93 473.5h3M98 473.5h4M103 473.5h2M113 473.5h3M117 473.5h2M120 473.5h1M128 473.5h1M132 473.5h1M134 473.5h1M139 473.5h2M145 473.5h9M155 473.5h1M82 474.5h7M90 474.5h9M104 474.5h1M106 474.5h1M108 474.5h1M112 474.5h1M115 474.5h2M120 474.5h1M125 474.5h1M127 474.5h2M130 474.5h1M132 474.5h1M136 474.5h1M143 474.5h3M147 474.5h7M82 475.5h2M85 475.5h9M95 475.5h4M104 475.5h1M106 475.5h2M110 475.5h2M113 475.5h1M116 475.5h1M120 475.5h1M126 475.5h1M128 475.5h1M130 475.5h1M134 475.5h2M137 475.5h2M144 475.5h2M147 475.5h3M151 475.5h2M154 475.5h1M156 475.5h1M82 476.5h1M84 476.5h6M92 476.5h10M104 476.5h2M110 476.5h2M116 476.5h1M118 476.5h1M120 476.5h1M123 476.5h1M127 476.5h1M134 476.5h3M138 476.5h1M143 476.5h1M146 476.5h1M149 476.5h3M153 476.5h1M82 477.5h11M95 477.5h3M100 477.5h2M104 477.5h1M106 477.5h4M111 477.5h1M113 477.5h1M116 477.5h1M118 477.5h1M120 477.5h2M124 477.5h1M129 477.5h1M131 477.5h3M136 477.5h1M142 477.5h1M144 477.5h1M146 477.5h1M151 477.5h1M154 477.5h1M82 478.5h9M92 478.5h2M95 478.5h4M100 478.5h1M106 478.5h1M110 478.5h2M116 478.5h1M119 478.5h1M122 478.5h3M127 478.5h1M137 478.5h1M141 478.5h1M143 478.5h1M149 478.5h2M152 478.5h1M82 479.5h2M85 479.5h6M92 479.5h1M94 479.5h5M101 479.5h3M105 479.5h1M112 479.5h1M116 479.5h4M121 479.5h1M123 479.5h1M125 479.5h1M127 479.5h4M132 479.5h1M135 479.5h1M140 479.5h1M143 479.5h1M150 479.5h3M154 479.5h1M82 480.5h1M84 480.5h1M86 480.5h4M91 480.5h3M96 480.5h3M100 480.5h2M106 480.5h2M113 480.5h1M115 480.5h1M119 480.5h1M121 480.5h2M126 480.5h3M131 480.5h3M143 480.5h1M148 480.5h1M82 481.5h15M98 481.5h4M103 481.5h1M106 481.5h2M115 481.5h1M119 481.5h2M122 481.5h1M124 481.5h2M127 481.5h1M133 481.5h1M135 481.5h1M137 481.5h3M148 481.5h1M155 481.5h1M157 481.5h1M82 482.5h11M94 482.5h3M99 482.5h1M103 482.5h1M108 482.5h1M110 482.5h2M115 482.5h2M119 482.5h1M124 482.5h5M132 482.5h1M134 482.5h1M136 482.5h1M140 482.5h1M144 482.5h1M149 482.5h1M151 482.5h1M82 483.5h18M102 483.5h1M104 483.5h1M107 483.5h5M115 483.5h2M123 483.5h2M126 483.5h1M128 483.5h1M131 483.5h1M133 483.5h2M139 483.5h1M155 483.5h1M84 484.5h1M86 484.5h4M91 484.5h5M97 484.5h2M100 484.5h2M105 484.5h2M111 484.5h1M113 484.5h2M116 484.5h1M120 484.5h1M123 484.5h1M125 484.5h1M127 484.5h3M137 484.5h1M139 484.5h1M141 484.5h1M82 485.5h7M90 485.5h9M103 485.5h1M105 485.5h1M108 485.5h1M114 485.5h3M118 485.5h1M120 485.5h3M124 485.5h4M132 485.5h1M135 485.5h1M138 485.5h1M149 485.5h1M83 486.5h4M88 486.5h8M97 486.5h2M101 486.5h2M105 486.5h1M108 486.5h1M113 486.5h1M120 486.5h1M122 486.5h5M131 486.5h1M142 486.5h1M152 486.5h1M82 487.5h7M90 487.5h2M93 487.5h3M97 487.5h4M105 487.5h1M109 487.5h2M112 487.5h2M117 487.5h3M121 487.5h1M125 487.5h1M127 487.5h1M129 487.5h1M132 487.5h1M143 487.5h1M82 488.5h4M87 488.5h8M99 488.5h2M102 488.5h1M104 488.5h1M106 488.5h1M111 488.5h1M114 488.5h2M125 488.5h1M131 488.5h3M137 488.5h1M140 488.5h1M149 488.5h1M82 489.5h3M86 489.5h3M90 489.5h2M93 489.5h6M100 489.5h1M102 489.5h3M106 489.5h2M126 489.5h3M131 489.5h1M133 489.5h1M139 489.5h1M142 489.5h1M144 489.5h1M151 489.5h1M82 490.5h1M84 490.5h4M89 490.5h3M93 490.5h4M98 490.5h3M103 490.5h1M106 490.5h1M111 490.5h1M115 490.5h1M119 490.5h2M122 490.5h1M131 490.5h1M133 490.5h1M143 490.5h2M82 491.5h1M84 491.5h3M88 491.5h9M98 491.5h1M105 491.5h1M107 491.5h1M110 491.5h3M114 491.5h1M119 491.5h3M125 491.5h1M149 491.5h1M82 492.5h16M99 492.5h4M104 492.5h1M109 492.5h2M112 492.5h3M119 492.5h1M122 492.5h1M126 492.5h1M129 492.5h3M134 492.5h1M157 492.5h1M82 493.5h5M88 493.5h5M96 493.5h1M100 493.5h1M103 493.5h1M105 493.5h1M107 493.5h1M110 493.5h2M114 493.5h1M118 493.5h1M120 493.5h4M125 493.5h1M130 493.5h1M153 493.5h1M156 493.5h1M82 494.5h19M106 494.5h1M108 494.5h7M123 494.5h1M127 494.5h1M129 494.5h2M140 494.5h1M144 494.5h1M151 494.5h1M82 495.5h14M97 495.5h1M106 495.5h4M121 495.5h1M125 495.5h1M128 495.5h1M130 495.5h1M135 495.5h1M144 495.5h1M152 495.5h1M82 496.5h1M84 496.5h7M92 496.5h2M95 496.5h5M101 496.5h1M103 496.5h1M105 496.5h1M108 496.5h1M116 496.5h3M120 496.5h2M124 496.5h1M136 496.5h1M152 496.5h1M154 496.5h1M82 497.5h14M97 497.5h2M102 497.5h2M105 497.5h1M108 497.5h2M112 497.5h1M115 497.5h1M123 497.5h1M134 497.5h1M144 497.5h1M147 497.5h1M149 497.5h1M84 498.5h10M95 498.5h1M101 498.5h2M105 498.5h1M107 498.5h3M130 498.5h1M148 498.5h1M82 499.5h2M85 499.5h14M103 499.5h4M108 499.5h1M111 499.5h1M117 499.5h1M125 499.5h1M145 499.5h1M151 499.5h2M83 500.5h12M96 500.5h1M98 500.5h1M101 500.5h2M104 500.5h4M112 500.5h1M136 500.5h1M143 500.5h1M82 501.5h8M91 501.5h9M102 501.5h5M108 501.5h1M124 501.5h1M127 501.5h1M131 501.5h1M142 501.5h1M144 501.5h1M82 502.5h7M90 502.5h3M94 502.5h1M98 502.5h2M102 502.5h1M105 502.5h1M107 502.5h4M112 502.5h1M82 503.5h13M99 503.5h5M106 503.5h2M82 504.5h5M88 504.5h3M92 504.5h4M97 504.5h2M103 504.5h1M105 504.5h1M110 504.5h2M118 504.5h1M136 504.5h2M143 504.5h1M82 505.5h1M84 505.5h5M90 505.5h7M101 505.5h1M104 505.5h1M108 505.5h1M82 506.5h13M97 506.5h2M100 506.5h2M104 506.5h1M106 506.5h2M111 506.5h1M115 506.5h1M133 506.5h1M135 506.5h1M137 506.5h1M83 507.5h14M98 507.5h2M101 507.5h2M104 507.5h1M109 507.5h1M112 507.5h1M139 507.5h1M82 508.5h8M91 508.5h7M99 508.5h4M105 508.5h2M109 508.5h1M111 508.5h1M117 508.5h1M123 508.5h1M82 509.5h10M93 509.5h1M95 509.5h2M98 509.5h5M106 509.5h1M130 509.5h1M148 509.5h2M155 509.5h1M82 510.5h7M90 510.5h3M94 510.5h1M96 510.5h1M99 510.5h4M107 510.5h3M140 510.5h1M82 511.5h2M85 511.5h2M88 511.5h3M92 511.5h9M103 511.5h1M105 511.5h3M130 511.5h1M143 511.5h1M149 511.5h1M153 511.5h1" stroke="#000" stroke-width="1" shape-rendering="crispEdges"/><path d="M81.25 407.75V512.5H184.25M81.25 512.5v3M89.00 512.5v1.6M93.54 512.5v1.6M96.75 512.5v1.6M99.25 512.5v1.6M101.29 512.5v1.6M103.01 512.5v1.6M104.50 512.5v1.6M105.82 512.5v1.6M107.00 512.5v3M114.75 512.5v1.6M119.29 512.5v1.6M122.50 512.5v1.6M125.00 512.5v1.6M127.04 512.5v1.6M128.76 512.5v1.6M130.25 512.5v1.6M131.57 512.5v1.6M132.75 512.5v3M140.50 512.5v1.6M145.04 512.5v1.6M148.25 512.5v1.6M150.75 512.5v1.6M152.79 512.5v1.6M154.51 512.5v1.6M156.00 512.5v1.6M157.32 512.5v1.6M158.50 512.5v3M166.25 512.5v1.6M170.79 512.5v1.6M174.00 512.5v1.6M176.50 512.5v1.6M178.54 512.5v1.6M180.26 512.5v1.6M181.75 512.5v1.6M183.07 512.5v1.6M184.25 512.5v3M81.25 410.75h-2.5M81.25 428.43h-1.5M81.25 423.98h-1.5M81.25 420.82h-1.5M81.25 418.37h-1.5M81.25 416.36h-1.5M81.25 414.67h-1.5M81.25 413.20h-1.5M81.25 411.91h-1.5M81.25 436.05h-2.5M81.25 453.73h-1.5M81.25 449.28h-1.5M81.25 446.12h-1.5M81.25 443.67h-1.5M81.25 441.66h-1.5M81.25 439.97h-1.5M81.25 438.50h-1.5M81.25 437.21h-1.5M81.25 461.35h-2.5M81.25 479.03h-1.5M81.25 474.58h-1.5M81.25 471.42h-1.5M81.25 468.97h-1.5M81.25 466.96h-1.5M81.25 465.27h-1.5M81.25 463.80h-1.5M81.25 462.51h-1.5M81.25 486.65h-2.5M81.25 504.33h-1.5M81.25 499.88h-1.5M81.25 496.72h-1.5M81.25 494.27h-1.5M81.25 492.26h-1.5M81.25 490.57h-1.5M81.25 489.10h-1.5M81.25 487.81h-1.5" stroke="#111" stroke-width="1.1" fill="none"/><text x="64.43" y="413.10" font-size="7.20" textLength="7.40" lengthAdjust="spacingAndGlyphs" font-family="'Liberation Sans', Arial, sans-serif" font-weight="bold" stroke="#000" stroke-width="0.5">10</text><text x="73.3" y="409.05" font-size="4.6" font-family="'Liberation Sans', Arial, sans-serif" font-weight="bold" stroke="#000" stroke-width="0.3">4</text><text x="64.43" y="435.90" font-size="7.20" textLength="7.40" lengthAdjust="spacingAndGlyphs" font-family="'Liberation Sans', Arial, sans-serif" font-weight="bold" stroke="#000" stroke-width="0.5">10</text><text x="73.3" y="431.85" font-size="4.6" font-family="'Liberation Sans', Arial, sans-serif" font-weight="bold" stroke="#000" stroke-width="0.3">3</text><text x="64.43" y="461.80" font-size="7.20" textLength="7.40" lengthAdjust="spacingAndGlyphs" font-family="'Liberation Sans', Arial, sans-serif" font-weight="bold" stroke="#000" stroke-width="0.5">10</text><text x="73.3" y="457.75" font-size="4.6" font-family="'Liberation Sans', Arial, sans-serif" font-weight="bold" stroke="#000" stroke-width="0.3">2</text><text x="64.43" y="488.00" font-size="7.20" textLength="7.40" lengthAdjust="spacingAndGlyphs" font-family="'Liberation Sans', Arial, sans-serif" font-weight="bold" stroke="#000" stroke-width="0.5">10</text><text x="73.3" y="483.95" font-size="4.6" font-family="'Liberation Sans', Arial, sans-serif" font-weight="bold" stroke="#000" stroke-width="0.3">1</text><text x="153.84" y="506.15" font-size="10.00" textLength="22.07" lengthAdjust="spacingAndGlyphs" font-family="'Liberation Sans', Arial, sans-serif" font-weight="bold" stroke="#000" stroke-width="0.3">1.7%</text><text x="270.47" y="8.55" font-size="10.00" textLength="26.79" lengthAdjust="spacingAndGlyphs" font-family="'Liberation Sans', Arial, sans-serif" font-weight="bold" stroke="#000" stroke-width="0.25">Day 0</text><text x="339.66" y="8.50" font-size="10.00" textLength="25.26" lengthAdjust="spacingAndGlyphs" font-family="'Liberation Sans', Arial, sans-serif" font-weight="bold" stroke="#000" stroke-width="0.25">Day 1</text><text x="407.96" y="8.65" font-size="10.00" textLength="27.21" lengthAdjust="spacingAndGlyphs" font-family="'Liberation Sans', Arial, sans-serif" font-weight="bold" stroke="#000" stroke-width="0.25">Day 2</text><text x="476.56" y="8.55" font-size="10.00" textLength="27.15" lengthAdjust="spacingAndGlyphs" font-family="'Liberation Sans', Arial, sans-serif" font-weight="bold" stroke="#000" stroke-width="0.25">Day 3</text><text x="218.83" y="45.55" font-size="18.60" textLength="13.02" lengthAdjust="spacingAndGlyphs" font-family="'Liberation Sans', Arial, sans-serif" font-weight="bold" >B</text><text x="219.15" y="234.25" font-size="18.60" textLength="12.57" lengthAdjust="spacingAndGlyphs" font-family="'Liberation Sans', Arial, sans-serif" font-weight="bold" >C</text><text x="219.26" y="425.15" font-size="18.60" textLength="12.73" lengthAdjust="spacingAndGlyphs" font-family="'Liberation Sans', Arial, sans-serif" font-weight="bold" >D</text><text transform="translate(250.15 327.60) rotate(-90)" font-size="11.10" textLength="110.70" lengthAdjust="spacingAndGlyphs" font-family="'Liberation Sans', Arial, sans-serif" font-weight="bold" stroke="#000" stroke-width="0.25">Relative Cell Number</text><path d="M258.5 53.7L259.8 50.6L261.3 47.4L262.9 49.5L264.5 46.3L266.1 51.6L267.2 53.7L268.2 59.0L269.3 64.3L270.9 67.5L272.5 69.1L273.4 69.5L274.3 69.5L275.2 69.0L276.2 69.6L277.2 69.5L278.3 69.8L279.3 70.0L280.4 70.6L281.4 70.1L282.5 69.8L283.6 70.5L284.6 70.3L285.7 70.5L286.7 70.7" fill="none" stroke="#666" stroke-width="1.2" stroke-dasharray="2 0.8"/><path d="M258.5 64.3L259.2 56.9L260.3 48.4L261.3 52.7L262.4 46.3L263.5 51.6L264.5 44.2L265.6 53.7L266.6 47.4L267.7 49.5L268.8 45.3L269.8 53.7L270.9 48.4L271.9 54.8L273.0 49.5L274.0 55.8L275.1 47.4L276.2 53.7L276.7 37.9L277.2 56.9L278.3 58.0L279.3 60.1L280.4 59.0L281.4 62.2L282.5 61.1L283.6 64.3L284.6 65.4L285.7 67.5L286.7 62.2L287.8 51.6L288.8 49.5L290.4 43.7L291.5 46.3L292.5 52.7L293.6 56.9L294.7 63.2L295.7 67.5L297.3 70.7L298.4 71.2" fill="none" stroke="#000" stroke-width="1.3" stroke-linejoin="round"/><rect x="258" y="24.7" width="49.4" height="47.2" fill="none" stroke="#333" stroke-width="1.35"/><path d="M258 70.9H307.4" stroke="#555" stroke-width="1" stroke-dasharray="2 1"/><path d="M328.3 58.3L329.7 49.0L331.2 46.9L332.3 38.6L333.3 45.9L334.3 40.7L335.4 42.8L336.4 48.0L337.5 53.2L338.5 59.4L340.1 63.5L341.6 65.6L343.2 63.5L344.7 66.7L345.8 68.6L346.8 69.8L347.8 69.8L348.9 70.8" fill="none" stroke="#666" stroke-width="1.2" stroke-dasharray="2 0.8"/><path d="M328.3 66.7L329.7 64.6L331.2 63.5L332.8 61.5L333.8 62.5L335.4 60.4L336.4 56.3L337.5 60.4L339.0 57.3L340.6 56.3L341.6 54.2L343.2 55.2L344.7 53.2L345.8 52.1L346.6 42.8L347.0 51.1L347.8 53.2L349.4 55.2L351.0 58.3L352.5 61.5L354.1 63.5L355.6 61.5L356.7 55.2L357.7 58.3L359.3 59.4L360.3 56.3L361.9 60.4L363.4 63.5L365.0 64.6L366.5 66.7L368.1 64.6L369.7 63.0L370.7 62.5L372.2 65.6L373.8 67.7L374.8 69.5L375.9 70.8" fill="none" stroke="#000" stroke-width="1.3" stroke-linejoin="round"/><rect x="327.8" y="24.7" width="49.4" height="47.2" fill="none" stroke="#333" stroke-width="1.35"/><path d="M327.8 70.9H377.2" stroke="#555" stroke-width="1" stroke-dasharray="2 1"/><path d="M398.6 61.5L399.7 53.2L400.7 48.0L401.8 42.8L402.8 41.7L403.8 44.8L405.4 40.7L406.4 45.9L407.5 49.0L408.5 52.1L409.5 58.3L410.6 65.6L411.6 66.7L413.2 67.7L414.7 63.5L416.3 66.7L417.8 68.7L418.9 69.5L419.9 70.3" fill="none" stroke="#666" stroke-width="1.2" stroke-dasharray="2 0.8"/><path d="M398.3 63.5L399.7 58.3L401.2 56.3L402.8 58.3L404.3 54.2L405.9 56.3L407.5 53.2L409.0 55.2L410.6 51.1L411.6 53.2L412.7 48.0L413.7 52.1L414.7 49.0L415.8 53.2L416.6 45.9L417.3 52.1L418.4 50.0L419.4 55.2L420.4 58.3L421.5 59.4L422.5 61.5L424.1 59.4L425.6 55.2L426.7 51.1L427.7 44.8L428.8 42.8L429.6 36.5L430.3 44.8L431.3 42.8L431.9 49.0L432.9 56.3L433.9 60.4L435.5 61.5L437.1 63.5L438.6 62.5L440.2 63.5L441.7 61.5L442.8 64.6L444.3 67.7L445.9 66.7L446.5 69.8" fill="none" stroke="#000" stroke-width="1.3" stroke-linejoin="round"/><rect x="397.6" y="24.7" width="49.4" height="47.2" fill="none" stroke="#333" stroke-width="1.35"/><path d="M397.6 70.9H447.0" stroke="#555" stroke-width="1" stroke-dasharray="2 1"/><path d="M468.6 51.1L470.2 45.9L471.7 37.6L472.8 34.5L473.8 32.4L474.8 31.3L475.9 33.4L476.9 36.5L477.9 40.7L478.5 44.8L479.0 49.0L479.5 53.2L480.0 57.3L481.1 61.5L482.1 64.6L483.1 66.7L484.2 69.8" fill="none" stroke="#666" stroke-width="1.2" stroke-dasharray="2 0.8"/><path d="M468.6 69.8L470.2 69.2L471.2 67.2L472.2 67.7L473.3 68.7L474.3 66.7L475.9 64.6L476.9 61.5L477.9 60.4L479.0 58.3L480.0 55.2L481.1 53.2L482.1 57.3L483.1 54.2L484.2 56.3L485.2 52.1L486.2 56.3L487.3 50.0L488.3 53.2L489.4 48.0L490.4 45.9L491.4 49.0L492.5 57.3L493.5 59.4L495.1 60.4L496.1 61.5L497.2 59.4L498.7 60.4L500.3 58.3L501.8 61.5L503.4 60.4L504.9 63.5L506.5 66.7L508.1 65.6L509.6 61.5L511.2 59.4L512.7 57.3L513.8 54.2L514.8 57.3L515.8 59.4L516.8 60.4L516.8 48.0" fill="none" stroke="#000" stroke-width="1.3" stroke-linejoin="round"/><rect x="467.9" y="24.7" width="49.4" height="47.2" fill="none" stroke="#333" stroke-width="1.35"/><path d="M467.9 70.9H517.3" stroke="#555" stroke-width="1" stroke-dasharray="2 1"/><path d="M282.2 76.1H514" stroke="#000" stroke-width="1.7"/><path d="M511.4 73.3L517.9 76.1L511.4 79.0L512.6 76.1Z" fill="#000"/><text x="260.40" y="85.00" font-size="10.00" textLength="25.62" lengthAdjust="spacingAndGlyphs" font-family="'Liberation Sans', Arial, sans-serif" font-weight="bold" stroke="#000" stroke-width="0.2">CD40</text><path d="M258.5 129.6L259.2 127.5L260.7 124.4L261.8 123.4L263.3 121.3L264.9 122.3L265.9 125.5L266.9 128.6L268.5 131.7L269.5 132.6L270.6 133.5L271.6 133.8L272.7 133.7L273.7 133.7L274.7 134.3L275.8 134.6" fill="none" stroke="#666" stroke-width="1.2" stroke-dasharray="2 0.8"/><path d="M258.5 110.9L258.9 100.5L259.7 104.7L260.7 95.3L261.4 103.7L262.3 102.6L263.3 106.8L264.3 112.0L265.4 117.2L266.4 123.4L267.5 127.5L269.0 129.6L270.6 130.7L271.6 129.0L272.7 129.6L274.2 130.7L275.8 131.7L276.8 131.1L277.8 130.7L278.9 130.8L279.9 132.7L281.0 132.6L282.0 132.2L283.0 132.8L284.1 133.8L285.1 135.2L286.2 134.3L287.2 133.8L288.2 134.8" fill="none" stroke="#000" stroke-width="1.3" stroke-linejoin="round"/><rect x="258" y="88.5" width="49.4" height="47.2" fill="none" stroke="#333" stroke-width="1.35"/><path d="M258 134.7H307.4" stroke="#555" stroke-width="1" stroke-dasharray="2 1"/><path d="M328.3 120.3L329.7 117.2L330.7 110.9L331.8 106.8L333.3 100.5L334.3 102.6L335.9 108.8L337.5 117.2L339.0 125.5L340.6 130.7L341.6 131.0L342.7 131.7L343.7 131.5L344.7 132.0L345.8 132.7L346.8 132.9L347.8 133.6L348.9 133.4L349.9 133.8L351.0 133.9L352.0 133.6L353.0 134.1L354.1 134.3" fill="none" stroke="#666" stroke-width="1.2" stroke-dasharray="2 0.8"/><path d="M328.3 117.2L329.2 113.0L330.2 106.8L331.2 102.6L332.3 100.5L333.3 98.5L334.3 100.5L335.4 105.7L336.4 110.9L337.5 116.1L338.5 121.3L339.5 126.5L340.6 129.6L342.1 128.6L343.2 127.5L344.2 129.6L345.8 130.7L347.3 131.7L348.9 132.7L350.4 132.2L352.0 132.7L353.6 131.7L355.1 131.2L356.2 131.5L357.2 131.7L358.8 131.7L359.8 133.2L361.3 134.3L362.4 135.2L363.4 134.8L364.5 134.3L365.5 135.2" fill="none" stroke="#000" stroke-width="1.3" stroke-linejoin="round"/><rect x="327.8" y="88.5" width="49.4" height="47.2" fill="none" stroke="#333" stroke-width="1.35"/><path d="M327.8 134.7H377.2" stroke="#555" stroke-width="1" stroke-dasharray="2 1"/><path d="M398.1 121.3L399.2 117.2L400.2 113.0L401.2 109.9L402.3 108.8L403.3 106.8L404.3 103.7L405.4 104.7L406.4 108.8L407.5 113.0L408.5 120.3L409.5 126.5L410.6 129.6L412.1 131.2L413.7 128.6L414.7 128.9L415.8 129.6L416.8 130.2L417.8 131.7L418.9 131.9L419.9 132.7L421.0 132.5L422.0 133.1L423.0 133.8L424.1 134.5L425.1 134.5L426.2 134.8" fill="none" stroke="#666" stroke-width="1.2" stroke-dasharray="2 0.8"/><path d="M398.1 101.6L399.2 96.4L400.2 99.5L401.2 103.7L402.3 106.8L403.3 108.8L404.3 110.9L405.4 117.2L406.4 122.3L407.5 126.5L408.5 127.5L409.5 125.5L410.6 126.5L411.6 125.5L412.7 123.4L413.7 122.3L414.7 124.4L415.8 125.5L417.3 126.5L418.9 128.6L420.4 129.6L422.0 127.5L423.6 130.7L425.1 131.7L426.7 131.7L428.2 132.7L429.3 131.7L430.3 133.2L431.3 133.1L432.4 133.8L433.4 133.7L434.5 134.8L435.5 133.2L436.5 134.8L437.6 135.2L438.6 135.2L439.7 135.2L440.7 134.8" fill="none" stroke="#000" stroke-width="1.3" stroke-linejoin="round"/><rect x="397.6" y="88.5" width="49.4" height="47.2" fill="none" stroke="#333" stroke-width="1.35"/><path d="M397.6 134.7H447.0" stroke="#555" stroke-width="1" stroke-dasharray="2 1"/><path d="M468.6 114.0L469.6 112.0L470.7 106.8L471.7 101.6L472.8 97.4L473.8 98.5L475.3 96.4L476.4 99.5L477.4 103.7L478.5 109.9L479.5 117.2L480.5 123.4L481.6 127.5L482.6 131.7L483.7 133.8" fill="none" stroke="#666" stroke-width="1.2" stroke-dasharray="2 0.8"/><path d="M468.6 109.9L469.6 102.6L470.7 98.5L471.7 96.4L472.8 92.2L473.8 96.4L475.3 97.4L476.4 96.4L477.2 101.6L477.9 109.9L479.0 115.1L480.0 120.3L481.1 124.4L482.1 125.5L483.1 122.3L484.2 125.5L485.7 126.5L487.3 124.4L488.3 121.3L489.4 116.1L490.1 120.3L490.9 124.4L492.5 127.5L494.0 129.6L495.1 129.9L496.1 130.7L497.2 127.7L498.2 127.5L499.2 130.7L500.3 131.1L501.3 132.2L502.3 134.3L503.4 133.8L504.4 135.1L505.5 134.8L506.5 134.7L507.5 135.2L508.6 135.2L509.6 135.0L510.7 135.2L511.7 135.2L512.7 135.2L513.8 134.8" fill="none" stroke="#000" stroke-width="1.3" stroke-linejoin="round"/><rect x="467.9" y="88.5" width="49.4" height="47.2" fill="none" stroke="#333" stroke-width="1.35"/><path d="M467.9 134.7H517.3" stroke="#555" stroke-width="1" stroke-dasharray="2 1"/><path d="M282.2 140.4H514" stroke="#000" stroke-width="1.7"/><path d="M511.4 137.6L517.9 140.4L511.4 143.3L512.6 140.4Z" fill="#000"/><text x="260.40" y="151.20" font-size="10.00" textLength="25.62" lengthAdjust="spacingAndGlyphs" font-family="'Liberation Sans', Arial, sans-serif" font-weight="bold" stroke="#000" stroke-width="0.2">CD80</text><path d="M258.5 186.3L259.2 181.2L260.2 178.0L261.2 176.0L262.3 173.9L263.3 174.9L264.3 179.1L265.4 183.2L266.9 187.4L268.5 191.5L270.1 194.7L271.6 196.7L272.7 196.5L273.7 197.2L274.7 197.3L275.8 197.4L276.8 197.3L277.8 197.8L278.9 198.2L279.9 198.2L281.0 198.0L282.0 198.3" fill="none" stroke="#666" stroke-width="1.2" stroke-dasharray="2 0.8"/><path d="M258.5 159.3L258.9 168.7L259.7 173.9L260.7 168.7L261.8 165.6L262.8 163.5L263.8 167.7L264.9 171.8L265.9 176.0L266.9 180.1L268.0 183.2L269.0 185.3L270.1 182.2L271.1 180.1L272.1 183.2L273.2 186.3L274.2 189.5L275.2 188.4L276.3 185.3L277.3 189.5L278.4 188.4L279.4 186.3L280.4 189.5L281.5 191.5L283.0 193.6L284.6 194.7L286.2 196.2L287.2 197.4L288.2 197.8L289.3 197.0L290.3 198.3L291.3 198.7L292.4 198.7L293.4 198.2L294.5 198.3L296.0 196.7L296.5 198.3L297.6 198.7L298.6 198.6L299.7 198.6" fill="none" stroke="#000" stroke-width="1.3" stroke-linejoin="round"/><rect x="258" y="152.0" width="49.4" height="47.2" fill="none" stroke="#333" stroke-width="1.35"/><path d="M258 198.2H307.4" stroke="#555" stroke-width="1" stroke-dasharray="2 1"/><path d="M328.3 187.4L329.2 183.2L330.2 179.1L331.2 176.0L332.3 172.8L333.3 173.9L334.3 177.0L335.4 181.2L336.9 184.3L338.5 186.3L339.5 189.5L340.6 192.6L342.1 191.5L343.7 192.6L345.2 193.6L346.8 195.7L348.4 197.2L349.9 197.8" fill="none" stroke="#666" stroke-width="1.2" stroke-dasharray="2 0.8"/><path d="M328.3 184.3L329.2 178.0L330.7 176.0L331.8 171.8L332.8 167.7L333.8 164.5L334.9 167.7L335.9 170.8L336.9 172.8L338.0 178.0L339.0 181.2L340.1 179.1L341.1 169.7L341.8 178.0L342.7 181.2L343.7 185.3L344.7 187.4L345.8 189.5L346.8 191.5L347.8 193.6L349.4 194.7L351.0 194.7L352.5 193.6L354.1 194.7L355.6 195.7L357.2 196.7L358.8 194.7L360.3 193.6L361.9 192.6L363.4 192.6L365.0 191.5L366.5 190.5L368.1 188.9L369.1 191.5L370.2 192.6L371.2 193.6L372.2 194.7L373.3 194.1L374.3 196.7L375.9 198.3" fill="none" stroke="#000" stroke-width="1.3" stroke-linejoin="round"/><rect x="327.8" y="152.0" width="49.4" height="47.2" fill="none" stroke="#333" stroke-width="1.35"/><path d="M327.8 198.2H377.2" stroke="#555" stroke-width="1" stroke-dasharray="2 1"/><path d="M398.1 180.1L399.2 176.0L400.2 172.8L401.2 170.8L402.8 168.7L404.3 165.6L405.4 168.7L406.4 172.8L407.5 177.0L408.5 181.2L409.5 185.3L410.6 189.5L411.6 192.6L413.2 194.7L414.2 194.7L415.2 195.7L416.3 196.7L417.3 196.7L418.4 197.1L419.4 197.8L420.7 198.4L422.0 198.3" fill="none" stroke="#666" stroke-width="1.2" stroke-dasharray="2 0.8"/><path d="M398.1 182.2L399.2 177.0L400.2 173.9L401.2 176.0L402.3 171.8L403.3 169.7L404.3 168.7L405.4 174.9L406.4 177.0L407.5 179.1L408.5 180.1L409.5 181.2L410.6 182.2L411.6 184.3L412.7 184.3L413.7 185.3L414.7 186.3L415.8 188.4L416.8 187.4L417.8 189.5L418.9 188.4L420.4 190.5L422.0 191.5L423.6 192.6L425.1 191.5L426.2 193.6L427.7 192.6L429.3 193.6L430.8 194.7L432.4 193.6L433.9 194.7L435.5 193.6L437.1 192.6L438.6 190.5L439.7 189.5L440.7 190.5L441.7 191.5L442.8 193.6L444.3 192.6L445.4 194.7L446.4 194.7" fill="none" stroke="#000" stroke-width="1.3" stroke-linejoin="round"/><rect x="397.6" y="152.0" width="49.4" height="47.2" fill="none" stroke="#333" stroke-width="1.35"/><path d="M397.6 198.2H447.0" stroke="#555" stroke-width="1" stroke-dasharray="2 1"/><path d="M468.4 181.2L469.6 176.0L471.2 170.8L472.2 166.6L473.3 161.4L474.3 159.3L475.3 158.3L476.4 160.4L477.4 167.7L478.5 174.9L479.5 181.2L480.5 186.3L481.6 191.5L482.6 195.7L483.7 198.3" fill="none" stroke="#666" stroke-width="1.2" stroke-dasharray="2 0.8"/><path d="M468.4 178.0L469.1 174.9L470.2 177.0L471.2 172.8L472.2 166.6L473.3 164.5L474.3 162.5L475.3 161.4L476.4 160.4L477.4 165.6L478.5 169.7L479.5 171.8L480.5 176.0L481.6 178.0L482.6 180.1L483.7 182.2L484.7 183.2L485.7 184.3L486.8 182.2L487.8 184.3L489.4 185.3L490.9 187.4L492.0 190.5L493.0 193.6L494.0 195.7L495.6 195.7L497.2 196.2L498.7 195.7L500.3 196.7L501.8 194.7L503.4 194.7L504.9 193.6L506.5 193.1L508.1 191.5L509.1 184.3L510.1 186.3L511.7 187.4L513.2 188.4L514.8 190.5L516.4 192.6L516.8 194.7" fill="none" stroke="#000" stroke-width="1.3" stroke-linejoin="round"/><rect x="467.9" y="152.0" width="49.4" height="47.2" fill="none" stroke="#333" stroke-width="1.35"/><path d="M467.9 198.2H517.3" stroke="#555" stroke-width="1" stroke-dasharray="2 1"/><path d="M281.8 205.0H514" stroke="#000" stroke-width="1.7"/><path d="M511.4 202.2L517.9 205.0L511.4 207.9L512.6 205.0Z" fill="#000"/><text x="260.60" y="213.80" font-size="10.00" textLength="25.36" lengthAdjust="spacingAndGlyphs" font-family="'Liberation Sans', Arial, sans-serif" font-weight="bold" stroke="#000" stroke-width="0.2">CD86</text><path d="M258.5 253.3L259.2 244.0L260.2 237.8L261.2 231.5L262.3 228.4L263.3 223.2L264.3 220.1L264.9 227.4L265.9 239.8L266.9 247.1L268.0 252.3L269.0 256.5L270.1 259.6L271.6 261.7L272.7 262.7L273.7 262.7L274.7 263.1L275.8 263.7L276.8 263.5L277.8 263.2L278.9 262.7L279.9 262.7L281.0 263.9L282.0 263.7L283.0 264.4L284.1 264.0L285.1 264.6L286.2 264.2L287.2 264.7L288.2 264.4L289.3 264.1L290.3 264.3L291.3 264.8" fill="none" stroke="#666" stroke-width="1.2" stroke-dasharray="2 0.8"/><path d="M258.5 258.5L258.6 253.3L259.7 246.1L260.7 240.9L261.8 239.8L262.8 232.6L263.3 226.3L264.3 228.4L265.4 233.6L265.9 239.8L266.9 245.0L268.0 249.2L269.0 252.3L270.1 254.4L271.1 256.5L272.1 257.5L273.2 259.6L274.2 260.6L275.2 261.7L276.3 261.1L277.3 262.7L278.9 262.2L280.4 262.7L282.0 263.2L283.6 262.7L285.1 261.7L286.7 263.2L288.2 262.7L289.8 263.7L291.3 264.2L292.9 264.2L294.5 263.7L296.0 264.8L297.6 264.2L299.1 264.6L300.7 265.3" fill="none" stroke="#000" stroke-width="1.3" stroke-linejoin="round"/><rect x="258" y="219.4" width="49.4" height="47.2" fill="none" stroke="#333" stroke-width="1.35"/><path d="M258 265.6H307.4" stroke="#555" stroke-width="1" stroke-dasharray="2 1"/><path d="M328.3 256.5L328.6 252.3L329.7 247.1L330.7 240.9L331.8 232.6L332.8 227.4L333.8 225.3L334.9 223.2L335.4 220.1L336.4 222.2L337.5 227.4L338.5 233.6L339.5 237.8L340.6 243.0L341.6 248.2L342.7 252.3L343.7 256.5L345.2 260.6L346.8 262.7L347.8 263.5L348.9 263.7L349.9 264.1L351.0 265.0L352.0 264.8L353.0 265.3L354.1 264.8L355.1 264.6L356.2 265.3" fill="none" stroke="#666" stroke-width="1.2" stroke-dasharray="2 0.8"/><path d="M328.3 262.7L328.6 258.5L329.7 254.4L330.7 249.2L331.8 245.0L332.8 241.9L333.8 244.0L334.9 247.1L335.9 246.1L336.9 244.0L338.0 240.9L339.0 232.6L339.5 226.3L340.1 221.2L340.6 225.3L341.1 232.6L341.6 237.8L342.1 243.0L342.9 248.2L343.7 252.3L344.7 254.4L345.8 252.3L346.8 255.4L347.8 257.5L348.9 256.5L349.9 258.5L351.0 257.5L352.0 256.5L353.0 256.5L354.1 257.5L355.1 258.0L356.2 256.5L357.2 258.5L358.8 257.5L359.8 256.5L360.8 258.5L361.9 259.6L362.9 256.5L363.9 254.4L365.0 252.3L366.0 250.2L367.1 248.2L368.1 244.0L368.8 248.2L369.7 256.5L370.7 260.6L371.7 263.7L372.8 264.8L373.8 265.3" fill="none" stroke="#000" stroke-width="1.3" stroke-linejoin="round"/><rect x="327.8" y="219.4" width="49.4" height="47.2" fill="none" stroke="#333" stroke-width="1.35"/><path d="M327.8 265.6H377.2" stroke="#555" stroke-width="1" stroke-dasharray="2 1"/><path d="M398.1 262.7L399.2 256.5L400.7 248.2L402.3 241.9L403.8 235.7L404.9 231.5L405.9 233.6L406.9 237.8L408.0 243.0L409.5 239.8L410.6 238.8L412.1 244.0L413.7 251.3L415.2 257.5L416.8 259.6L417.8 260.5L418.9 261.7L419.9 262.7L421.0 263.7L422.0 264.4L423.0 264.2L424.1 264.8L425.1 264.8L426.2 265.3L427.2 264.6L428.2 265.3" fill="none" stroke="#666" stroke-width="1.2" stroke-dasharray="2 0.8"/><path d="M398.1 264.8L398.6 261.7L399.7 256.5L400.7 250.2L401.8 245.0L402.8 240.9L403.8 237.8L404.9 228.4L405.9 232.6L406.9 234.7L408.0 240.9L408.7 247.1L409.5 239.8L410.6 236.7L411.6 240.9L412.7 244.0L413.7 248.2L414.7 254.4L415.8 256.5L416.8 257.5L417.8 257.5L418.9 258.5L419.9 260.6L421.0 261.7L422.0 260.6L423.0 259.6L424.1 261.7L425.1 262.7L426.2 260.6L427.2 261.7L428.2 262.7L429.8 261.7L431.3 260.6L432.9 261.7L434.5 262.7L436.0 261.1L437.1 259.6L438.1 257.5L439.1 254.4L439.9 251.3L440.7 255.4L441.7 256.5L442.8 255.4L443.8 261.7L444.8 263.2L445.9 264.8" fill="none" stroke="#000" stroke-width="1.3" stroke-linejoin="round"/><rect x="397.6" y="219.4" width="49.4" height="47.2" fill="none" stroke="#333" stroke-width="1.35"/><path d="M397.6 265.6H447.0" stroke="#555" stroke-width="1" stroke-dasharray="2 1"/><path d="M468.4 262.7L469.1 262.2L470.2 260.6L471.2 259.2L472.2 258.5L473.3 256.7L474.3 255.4L475.9 252.3L477.4 250.2L479.0 249.2L480.5 250.2L482.1 252.3L483.7 254.4L485.2 257.5L486.8 260.6L488.3 262.7L489.9 264.8L490.9 265.4L492.0 264.6L493.0 265.3L494.0 264.8L495.1 265.5L496.1 265.0L497.2 265.3" fill="none" stroke="#666" stroke-width="1.2" stroke-dasharray="2 0.8"/><path d="M468.4 265.8L469.1 265.3L470.7 264.2L472.2 262.7L473.8 260.6L474.8 257.5L475.9 254.4L476.9 252.3L477.9 251.3L479.0 252.3L480.0 253.3L481.1 251.3L482.1 249.2L483.1 251.3L484.2 253.3L485.2 255.4L486.2 258.5L487.3 259.6L488.3 260.6L489.4 262.7L490.9 261.7L492.5 260.6L494.0 260.1L495.6 261.7L497.2 260.6L498.7 259.1L500.3 257.5L501.8 254.4L502.9 253.3L503.9 251.3L504.9 248.2L506.0 244.0L507.0 238.8L508.1 232.6L508.9 228.4L509.6 230.5L510.7 237.8L511.7 244.0L512.7 246.1L513.8 247.1L514.8 248.2L515.8 254.4L516.8 260.6L516.8 264.8" fill="none" stroke="#000" stroke-width="1.3" stroke-linejoin="round"/><rect x="467.9" y="219.4" width="49.4" height="47.2" fill="none" stroke="#333" stroke-width="1.35"/><path d="M467.9 265.6H517.3" stroke="#555" stroke-width="1" stroke-dasharray="2 1"/><path d="M296.2 271.3H514" stroke="#000" stroke-width="1.7"/><path d="M511.4 268.5L517.9 271.3L511.4 274.2L512.6 271.3Z" fill="#000"/><text x="260.28" y="279.80" font-size="10.00" textLength="45.18" lengthAdjust="spacingAndGlyphs" font-family="'Liberation Sans', Arial, sans-serif" font-weight="bold" stroke="#000" stroke-width="0.2">CMRF-44</text><path d="M258.5 320.5L259.2 312.2L260.2 303.8L261.2 295.5L262.3 289.3L263.3 291.4L264.3 289.3L265.4 285.2L266.4 293.5L267.5 303.8L268.5 312.2L269.5 317.3L270.6 324.6L272.1 327.7L273.0 327.6L274.0 328.1L274.9 327.8L275.8 328.2L276.8 328.2L277.8 328.9L278.9 328.3L279.9 329.0L281.0 328.8" fill="none" stroke="#666" stroke-width="1.2" stroke-dasharray="2 0.8"/><path d="M258.5 324.6L258.6 320.5L259.7 314.2L260.7 307.0L261.8 299.7L262.8 294.5L263.8 293.5L264.9 296.6L265.9 301.8L266.9 307.0L268.0 312.2L269.0 317.3L270.1 323.6L271.1 326.7L272.7 327.7L273.7 327.6L274.7 328.2L275.8 328.2L276.8 327.7L277.8 327.7L278.9 327.2L279.9 327.7L281.0 328.2L282.0 329.5L283.0 328.8L284.1 329.5L285.1 328.2L286.2 328.0L287.2 327.7L288.2 327.2L289.3 328.8L290.3 327.7L291.3 328.8L292.4 327.6L293.4 329.3" fill="none" stroke="#000" stroke-width="1.3" stroke-linejoin="round"/><rect x="258" y="282.8" width="49.4" height="47.2" fill="none" stroke="#333" stroke-width="1.35"/><path d="M258 329.0H307.4" stroke="#555" stroke-width="1" stroke-dasharray="2 1"/><path d="M328.3 322.5L328.6 315.3L329.7 309.0L330.7 301.8L331.8 291.4L332.8 285.2L333.8 287.2L334.9 291.4L335.9 296.6L336.9 300.7L338.0 294.5L339.0 287.2L340.1 291.4L341.1 301.8L342.1 309.0L343.2 314.2L344.2 319.4L345.2 322.5L346.8 325.7L347.8 326.4L348.9 327.2L349.9 327.5L351.0 327.3L352.0 328.2L353.0 328.7L354.1 328.2L355.1 328.1L356.2 328.8" fill="none" stroke="#666" stroke-width="1.2" stroke-dasharray="2 0.8"/><path d="M328.3 327.7L328.3 322.5L329.2 316.3L330.2 310.1L331.2 303.8L332.3 297.6L333.3 291.4L334.3 295.5L335.4 297.6L336.4 293.5L337.5 289.3L338.5 293.5L339.3 284.1L340.1 290.3L341.1 297.6L342.1 304.9L343.2 312.2L344.2 317.3L345.2 320.5L346.3 322.5L347.3 324.6L348.4 323.6L349.4 325.7L350.4 323.6L351.5 320.5L352.5 323.6L354.1 324.6L355.6 322.5L356.7 320.5L357.7 312.2L358.2 309.0L358.8 320.5L359.8 322.5L360.8 324.6L361.9 326.7L362.9 328.8L364.5 329.3L365.5 328.1L366.5 329.5" fill="none" stroke="#000" stroke-width="1.3" stroke-linejoin="round"/><rect x="327.8" y="282.8" width="49.4" height="47.2" fill="none" stroke="#333" stroke-width="1.35"/><path d="M327.8 329.0H377.2" stroke="#555" stroke-width="1" stroke-dasharray="2 1"/><path d="M398.1 299.7L398.1 312.2L399.2 319.4L400.7 312.2L402.3 299.7L403.8 289.3L404.9 285.2L405.9 296.6L406.9 310.1L408.0 307.0L409.0 301.8L410.1 299.7L411.6 303.8L413.2 311.1L414.7 318.4L415.8 320.7L416.8 323.6L417.8 325.0L418.9 326.7L419.9 327.6L421.0 327.8L422.0 327.7L423.0 327.7L424.1 328.3L425.1 328.0L426.2 327.7L427.2 326.7L428.2 325.7L429.3 323.7L430.3 322.5L431.9 317.3L433.4 316.3L435.0 324.6L436.5 328.8L437.6 329.2L438.6 329.3" fill="none" stroke="#666" stroke-width="1.2" stroke-dasharray="2 0.8"/><path d="M398.1 328.8L398.3 324.6L399.2 319.4L400.2 313.2L401.2 307.0L402.3 299.7L403.3 293.5L404.3 287.2L405.4 286.2L406.4 291.4L407.5 299.7L408.5 304.9L409.5 301.8L410.4 289.3L411.1 298.7L412.1 301.8L413.2 307.0L414.2 311.1L415.2 316.3L416.3 320.5L417.3 322.5L418.4 320.5L419.4 316.3L420.4 324.6L421.5 326.7L422.5 324.6L423.6 320.5L424.6 325.7L425.6 326.7L426.7 324.6L427.7 322.5L428.8 322.5L429.8 319.4L430.8 316.3L431.9 314.2L432.9 314.2L433.9 310.1L435.0 314.2L436.0 320.5L437.1 324.6L438.1 326.7L439.1 328.8L440.7 329.3L441.7 329.5L442.8 329.3L443.8 329.4L444.8 328.8L446.4 329.3" fill="none" stroke="#000" stroke-width="1.3" stroke-linejoin="round"/><rect x="397.6" y="282.8" width="49.4" height="47.2" fill="none" stroke="#333" stroke-width="1.35"/><path d="M397.6 329.0H447.0" stroke="#555" stroke-width="1" stroke-dasharray="2 1"/><path d="M468.4 328.8L469.1 327.8L470.2 325.7L471.2 322.9L472.2 320.5L473.3 316.3L474.3 312.2L475.9 301.8L476.9 295.5L477.9 291.4L479.0 292.4L480.0 297.6L481.1 296.6L482.6 294.5L484.2 297.6L485.7 301.8L486.8 308.0L487.8 316.3L488.8 322.5L490.4 326.7L491.7 328.0L493.0 328.8L494.0 329.4L495.1 328.8L496.1 329.5L497.2 329.3" fill="none" stroke="#666" stroke-width="1.2" stroke-dasharray="2 0.8"/><path d="M468.4 329.3L469.1 327.7L470.7 324.6L472.2 320.5L473.8 314.2L474.8 309.0L475.9 301.8L476.9 294.5L477.9 291.4L479.0 294.5L479.5 301.8L480.5 304.9L481.6 305.9L482.6 307.0L483.1 312.2L484.2 314.2L485.2 317.3L486.2 319.4L487.3 318.4L488.3 320.5L489.4 318.4L490.4 316.3L491.4 319.4L492.5 320.5L493.5 318.4L494.6 319.4L495.6 318.4L496.6 315.3L497.7 311.1L498.7 307.0L499.2 310.1L500.3 311.1L501.3 312.2L502.3 311.1L503.4 309.0L504.4 304.9L505.5 309.0L506.5 308.0L507.5 312.2L508.6 320.5L509.6 325.7L510.7 328.2L512.2 329.3L513.5 329.2L514.8 329.3L515.8 329.5L516.8 329.3" fill="none" stroke="#000" stroke-width="1.3" stroke-linejoin="round"/><rect x="467.9" y="282.8" width="49.4" height="47.2" fill="none" stroke="#333" stroke-width="1.35"/><path d="M467.9 329.0H517.3" stroke="#555" stroke-width="1" stroke-dasharray="2 1"/><path d="M297.0 336.4H514" stroke="#000" stroke-width="1.7"/><path d="M511.4 333.59999999999997L517.9 336.4L511.4 339.29999999999995L512.6 336.4Z" fill="#000"/><text x="260.59" y="344.80" font-size="10.00" textLength="44.58" lengthAdjust="spacingAndGlyphs" font-family="'Liberation Sans', Arial, sans-serif" font-weight="bold" stroke="#000" stroke-width="0.2">CMRF-56</text><path d="M258.5 378.2L259.2 370.9L260.2 365.7L261.2 367.8L262.3 370.9L263.3 371.9L264.3 376.1L265.4 381.3L266.4 386.5L267.5 390.6L268.5 393.7L269.5 393.9L270.6 394.6L271.6 394.8L272.7 394.7L273.7 394.7L274.7 394.8L275.8 394.8L276.8 394.5L277.8 394.8" fill="none" stroke="#666" stroke-width="1.2" stroke-dasharray="2 0.8"/><path d="M258.5 373.0L258.6 367.8L259.4 365.7L260.2 357.4L261.0 364.7L261.8 366.7L262.8 367.8L263.8 368.8L264.9 375.0L265.9 380.2L266.9 385.4L268.0 389.6L269.0 392.7L270.6 393.2L271.6 393.8L272.7 393.7L273.7 394.7L274.7 394.8L275.8 393.7L276.8 394.8L277.8 394.8L278.9 394.2L279.9 394.8L281.0 394.0L282.0 394.2L283.0 394.8L284.1 394.8L285.1 394.2L286.2 394.8L287.2 394.8L288.2 394.8L289.3 394.8L290.3 394.8L291.3 394.8L292.6 394.8L293.9 394.2L295.0 392.2L296.0 394.2L297.3 394.8L298.6 394.8L299.7 394.4L300.7 394.5L301.7 394.8L302.8 394.8L303.8 394.3L304.8 394.8L305.9 394.8" fill="none" stroke="#000" stroke-width="1.3" stroke-linejoin="round"/><rect x="258" y="348.1" width="49.4" height="47.2" fill="none" stroke="#333" stroke-width="1.35"/><path d="M258 394.3H307.4" stroke="#555" stroke-width="1" stroke-dasharray="2 1"/><path d="M328.3 381.3L328.6 376.1L329.7 367.8L330.7 362.6L331.8 356.3L332.5 354.3L333.3 358.4L334.3 361.5L335.4 364.7L336.4 365.7L337.5 370.9L338.5 378.2L339.5 383.3L340.6 387.5L341.6 390.6L343.2 392.7L344.5 392.1L345.8 392.7L346.8 392.8L347.8 393.7L348.9 394.2L349.9 394.5L351.0 394.2L352.0 394.6L353.0 394.8" fill="none" stroke="#666" stroke-width="1.2" stroke-dasharray="2 0.8"/><path d="M328.3 365.7L328.6 373.0L329.7 374.0L330.7 367.8L331.8 361.5L332.5 357.4L333.3 360.5L334.3 365.7L335.4 362.6L336.4 367.8L337.3 371.9L338.0 381.3L339.0 385.4L340.1 388.5L341.1 389.6L342.1 385.4L343.2 386.5L344.2 383.3L345.2 388.5L346.3 390.6L347.3 389.6L348.4 391.7L349.4 390.6L350.4 392.7L351.5 391.7L352.5 389.6L353.6 390.6L354.6 387.5L355.6 388.5L356.7 387.5L357.7 388.5L358.8 386.5L359.8 388.5L360.8 390.6L361.9 391.7L362.9 392.7L364.5 393.7L366.0 394.8L367.3 394.1L368.6 394.8L369.7 394.8L370.7 394.8L371.7 394.8" fill="none" stroke="#000" stroke-width="1.3" stroke-linejoin="round"/><rect x="327.8" y="348.1" width="49.4" height="47.2" fill="none" stroke="#333" stroke-width="1.35"/><path d="M327.8 394.3H377.2" stroke="#555" stroke-width="1" stroke-dasharray="2 1"/><path d="M398.1 368.8L399.2 361.5L400.2 359.5L401.2 356.3L402.3 360.5L403.3 365.7L404.3 371.9L405.4 375.0L406.9 379.2L408.5 384.4L410.1 388.5L411.6 390.6L412.7 391.1L413.7 390.6L414.7 391.3L415.8 391.7L416.8 391.5L417.8 391.9L418.9 392.7L419.9 392.9L421.0 392.9L422.0 393.5L423.0 393.7L424.1 393.6L425.1 393.7L426.2 393.9L427.2 393.1L428.2 393.2L429.3 393.8L430.3 393.8L431.3 393.9L432.4 394.2" fill="none" stroke="#666" stroke-width="1.2" stroke-dasharray="2 0.8"/><path d="M398.1 369.8L398.6 363.6L399.7 360.5L400.7 357.4L401.4 353.2L402.3 358.4L403.3 362.6L404.3 367.8L405.4 373.0L406.4 376.1L407.5 379.2L408.5 383.3L409.5 386.5L410.6 389.6L411.6 387.5L412.7 385.4L413.7 386.5L414.7 388.5L415.8 389.6L416.8 388.5L417.8 390.6L418.9 389.6L419.9 388.5L421.0 387.5L422.0 388.5L423.0 386.5L424.1 387.5L425.1 385.4L425.8 379.2L426.7 384.4L427.7 386.5L428.8 387.5L429.8 389.6L430.8 391.7L432.4 392.7L433.4 394.6L434.5 393.7L435.5 393.4L436.5 394.2L437.6 394.1L438.6 394.7L439.7 394.8L440.7 393.2L441.7 393.4L442.8 394.8L443.8 394.8L444.8 393.6L445.9 394.8" fill="none" stroke="#000" stroke-width="1.3" stroke-linejoin="round"/><rect x="397.6" y="348.1" width="49.4" height="47.2" fill="none" stroke="#333" stroke-width="1.35"/><path d="M397.6 394.3H447.0" stroke="#555" stroke-width="1" stroke-dasharray="2 1"/><path d="M468.4 382.3L469.1 379.2L470.2 377.1L471.7 378.2L473.3 379.2L474.8 381.3L476.4 382.3L477.9 385.4L479.5 388.5L481.1 391.7L482.6 393.7L484.2 394.8" fill="none" stroke="#666" stroke-width="1.2" stroke-dasharray="2 0.8"/><path d="M468.4 378.2L469.1 375.0L470.2 373.0L471.2 370.9L472.2 368.8L473.3 366.7L474.3 364.7L475.3 363.6L476.4 364.7L477.4 365.7L478.5 368.8L479.5 373.0L480.5 377.1L481.6 380.2L482.6 383.3L483.7 385.4L484.7 386.5L485.7 387.5L486.8 385.4L487.8 382.3L488.8 378.2L489.9 379.2L490.9 381.3L492.0 383.3L493.0 382.3L494.0 383.3L495.1 384.4L496.1 382.3L497.2 383.3L498.2 384.4L499.2 387.5L500.3 390.6L501.8 392.7L503.4 393.7L504.9 394.8L506.5 394.8L508.1 394.8L509.0 394.7L509.9 394.8L510.8 394.7L511.7 394.8" fill="none" stroke="#000" stroke-width="1.3" stroke-linejoin="round"/><rect x="467.9" y="348.1" width="49.4" height="47.2" fill="none" stroke="#333" stroke-width="1.35"/><path d="M467.9 394.3H517.3" stroke="#555" stroke-width="1" stroke-dasharray="2 1"/><path d="M281.6 401.4H514" stroke="#000" stroke-width="1.7"/><path d="M511.4 398.59999999999997L517.9 401.4L511.4 404.29999999999995L512.6 401.4Z" fill="#000"/><text x="260.40" y="410.70" font-size="10.00" textLength="25.36" lengthAdjust="spacingAndGlyphs" font-family="'Liberation Sans', Arial, sans-serif" font-weight="bold" stroke="#000" stroke-width="0.2">CD83</text><path d="M258.5 440.1L259.7 430.7L261.2 433.8L262.3 435.6L263.3 438.0L264.3 441.1L265.4 445.3L266.9 452.5L268.0 459.3L269.5 458.8L270.6 459.0L271.6 458.4L272.7 459.3L273.7 459.3L274.7 458.5L275.8 459.0L276.8 458.7L277.8 458.5L278.9 459.2L279.9 459.0L281.0 458.8L282.0 459.0" fill="none" stroke="#666" stroke-width="1.2" stroke-dasharray="2 0.8"/><path d="M258.5 442.2L258.6 431.8L259.4 428.7L260.2 433.8L261.0 429.7L261.8 438.0L262.8 431.8L263.8 440.1L264.9 444.2L265.9 448.4L266.9 441.1L267.7 450.5L268.5 454.6L269.5 447.3L270.6 452.5L271.6 456.7L272.7 450.5L273.7 455.7L274.7 452.5L275.8 456.7L276.8 454.6L277.8 455.7L278.9 453.6L279.9 452.5L281.0 455.7L282.0 452.5L283.0 453.6L284.1 452.5L285.1 444.2L285.6 442.2L286.7 448.4L287.7 444.2L288.8 445.3L289.8 442.2L290.8 449.4L291.9 443.2L292.9 444.2L293.9 442.2L295.0 445.3L296.0 444.2L297.1 448.4L298.1 449.4L299.1 452.5L300.2 455.7L301.2 457.7L302.8 459.3L304.3 459.8" fill="none" stroke="#000" stroke-width="1.3" stroke-linejoin="round"/><rect x="258" y="413.8" width="49.4" height="47.2" fill="none" stroke="#333" stroke-width="1.35"/><path d="M258 460.0H307.4" stroke="#555" stroke-width="1" stroke-dasharray="2 1"/><path d="M328.3 431.8L328.6 420.3L329.7 416.2L330.7 421.4L331.8 424.5L332.8 427.6L333.8 433.8L334.9 442.2L335.9 450.5L336.9 456.7L338.0 459.3L338.9 459.2L339.8 458.8L340.7 459.5L341.6 458.8L342.7 458.5L343.7 458.1L344.7 458.4L345.8 458.0L346.8 458.2L347.8 458.2L348.8 458.8L349.7 458.2L350.6 458.3L351.5 458.7L352.5 458.0L353.4 458.2L354.3 458.4L355.2 458.7L356.2 458.2L357.1 457.8L358.0 457.8L359.0 458.5L359.9 458.3L360.9 457.9L361.8 458.4L362.8 459.0L363.7 459.0L364.7 458.7L365.6 458.9L366.5 458.6" fill="none" stroke="#666" stroke-width="1.2" stroke-dasharray="2 0.8"/><path d="M328.3 437.0L328.3 429.7L329.2 438.0L330.2 435.9L331.2 433.8L332.3 432.8L333.3 430.7L334.3 434.9L335.4 424.5L336.4 435.9L337.5 439.0L338.5 437.0L339.5 433.8L340.6 442.2L341.6 445.3L342.7 448.4L343.7 452.5L344.7 453.6L345.8 452.5L346.8 454.6L347.8 450.5L348.9 452.5L349.9 451.5L351.0 448.4L352.0 452.5L353.0 450.5L354.1 451.5L355.1 448.4L356.2 452.5L357.2 453.6L358.2 448.4L359.3 451.5L360.3 453.6L361.3 454.6L362.4 450.5L363.4 452.5L364.5 453.6L365.5 450.5L366.5 446.3L367.6 442.2L368.3 438.0L369.1 443.2L370.2 448.4L371.2 454.6L372.2 459.8" fill="none" stroke="#000" stroke-width="1.3" stroke-linejoin="round"/><rect x="327.8" y="413.8" width="49.4" height="47.2" fill="none" stroke="#333" stroke-width="1.35"/><path d="M327.8 460.0H377.2" stroke="#555" stroke-width="1" stroke-dasharray="2 1"/><path d="M398.1 426.6L398.6 423.5L399.7 421.4L400.7 419.3L401.8 417.2L402.8 416.2L403.8 419.3L404.9 427.6L405.9 433.8L406.9 440.1L408.0 447.3L409.0 452.5L410.1 456.7L411.1 450.5L412.1 448.4L413.2 450.5L414.2 454.6L415.2 456.7L416.8 457.7L417.8 457.5L418.9 458.1L419.9 458.8L421.0 458.8L422.0 459.3L423.0 458.4L424.1 459.0L425.1 458.7L426.2 459.3" fill="none" stroke="#666" stroke-width="1.2" stroke-dasharray="2 0.8"/><path d="M398.1 447.3L398.6 445.3L399.7 442.2L400.7 438.0L401.8 434.9L402.8 431.8L403.8 432.8L404.9 434.9L405.9 423.5L406.6 431.8L407.5 438.0L408.5 440.1L409.5 433.8L410.6 439.0L411.6 444.2L412.7 438.0L413.5 424.5L414.2 431.8L414.9 442.2L415.8 448.4L416.8 450.5L417.8 452.5L418.9 451.5L419.9 448.4L420.4 445.3L421.2 450.5L422.0 452.5L423.0 453.6L424.1 451.5L425.1 453.6L426.2 450.5L427.0 447.3L427.8 452.5L428.8 450.5L429.8 454.6L430.8 451.5L431.9 453.6L432.9 450.5L433.9 451.5L435.0 450.5L436.0 449.4L436.9 441.1L437.6 447.3L438.6 452.5L439.7 454.6L440.7 456.7L441.7 458.8L442.8 459.8" fill="none" stroke="#000" stroke-width="1.3" stroke-linejoin="round"/><rect x="397.6" y="413.8" width="49.4" height="47.2" fill="none" stroke="#333" stroke-width="1.35"/><path d="M397.6 460.0H447.0" stroke="#555" stroke-width="1" stroke-dasharray="2 1"/><path d="M468.4 450.5L469.6 442.2L470.7 437.0L471.7 431.8L472.8 426.6L473.8 422.4L474.8 417.2L475.9 425.5L476.9 427.6L477.9 431.8L479.0 438.0L480.0 445.3L481.1 452.5L482.1 456.7L483.7 458.8L484.7 458.6L485.7 459.7L486.8 459.3" fill="none" stroke="#666" stroke-width="1.2" stroke-dasharray="2 0.8"/><path d="M468.4 452.5L469.1 450.5L470.2 448.4L471.2 446.3L472.2 443.2L473.3 441.1L474.3 439.0L475.3 437.0L476.4 434.9L477.4 431.8L478.5 430.7L479.3 426.6L480.0 435.9L481.1 441.1L482.1 445.3L483.1 448.4L484.2 449.4L485.2 451.5L486.2 452.5L487.3 450.5L488.3 448.4L489.4 452.5L490.4 455.7L491.4 454.6L492.5 456.7L493.5 454.6L494.6 452.5L495.6 453.6L496.6 455.7L497.7 457.7L498.7 455.7L499.8 455.7L500.8 454.6L501.8 455.7L502.9 453.6L503.9 451.5L504.9 452.5L506.0 450.5L506.7 447.3L507.5 452.5L508.6 454.6L509.6 456.7L510.7 457.7L511.7 459.3L513.2 459.6L514.8 459.8" fill="none" stroke="#000" stroke-width="1.3" stroke-linejoin="round"/><rect x="467.9" y="413.8" width="49.4" height="47.2" fill="none" stroke="#333" stroke-width="1.35"/><path d="M467.9 460.0H517.3" stroke="#555" stroke-width="1" stroke-dasharray="2 1"/><path d="M287.4 466.8H514" stroke="#000" stroke-width="1.7"/><path d="M511.4 464.0L517.9 466.8L511.4 469.7L512.6 466.8Z" fill="#000"/><text x="260.40" y="475.80" font-size="10.00" textLength="30.58" lengthAdjust="spacingAndGlyphs" font-family="'Liberation Sans', Arial, sans-serif" font-weight="bold" stroke="#000" stroke-width="0.2">CD11c</text><path d="M258.5 493.7L259.2 492.6L260.7 495.7L261.8 493.7L262.8 496.8L263.8 503.0L264.9 507.2L265.9 512.3L266.9 519.6L268.0 524.3L269.5 523.8L270.6 523.6L271.6 523.3L272.7 523.2L273.7 523.8L274.6 523.6L275.5 524.3L276.5 523.6L277.4 523.5L278.3 524.1L279.2 523.8L280.2 524.1L281.1 524.3L282.0 524.3L282.9 524.2L283.8 524.2L284.7 524.1L285.6 524.3L286.5 524.3L287.5 524.3L288.4 523.3L289.3 523.8L290.3 520.6L291.3 518.4L292.4 515.5L293.9 507.2L295.0 502.0L296.0 498.8L297.1 488.5L298.1 496.8L299.1 512.3L300.2 520.7L301.2 524.3" fill="none" stroke="#666" stroke-width="1.2" stroke-dasharray="2 0.8"/><path d="M258.5 496.8L258.6 493.7L259.4 505.1L260.2 507.2L261.2 509.2L262.3 507.2L263.3 503.0L264.3 502.0L265.4 509.2L266.4 512.3L267.5 507.2L268.3 515.5L269.0 509.2L270.1 514.4L271.1 511.3L272.1 507.2L273.2 515.5L274.2 509.2L275.2 507.2L276.3 508.2L277.3 506.1L278.4 499.9L279.4 505.1L280.4 502.0L281.5 499.9L282.2 506.1L283.0 509.2L284.1 513.4L285.1 515.5L286.2 518.6L287.2 520.7L288.2 519.6L289.3 521.7L290.3 522.7L291.3 520.7L292.4 517.5L293.4 515.5L294.3 507.2L295.0 511.3L295.7 503.0L296.5 494.7L297.4 487.4L298.1 496.8L298.8 503.0L299.7 515.5L300.7 521.7L301.7 523.8L302.8 524.3" fill="none" stroke="#000" stroke-width="1.3" stroke-linejoin="round"/><rect x="258" y="477.6" width="49.4" height="47.2" fill="none" stroke="#333" stroke-width="1.35"/><path d="M258 523.8000000000001H307.4" stroke="#555" stroke-width="1" stroke-dasharray="2 1"/><path d="M328.3 491.6L328.6 481.2L329.7 480.2L330.7 484.3L331.8 489.5L332.8 496.8L333.8 503.0L334.9 507.2L335.9 512.3L336.9 519.6L338.0 523.8L338.9 523.3L339.8 524.1L340.7 524.1L341.6 523.8L342.7 523.3L343.7 524.0L344.7 523.3L345.8 523.4L346.8 523.8L347.8 524.0L348.8 524.0L349.7 524.1L350.6 524.3L351.5 523.7L352.5 523.7L353.4 524.1L354.3 523.4L355.2 523.8L356.2 524.0L357.2 524.3L358.2 524.0L359.3 523.9L360.3 524.3L361.3 523.6L362.4 523.8L363.4 520.4L364.5 517.5L365.7 506.1L367.1 509.2L368.6 515.5L370.2 522.7L371.2 524.3" fill="none" stroke="#666" stroke-width="1.2" stroke-dasharray="2 0.8"/><path d="M328.3 507.2L328.3 502.0L329.2 509.2L330.2 506.1L331.2 500.9L331.8 491.6L332.3 486.4L333.1 496.8L333.8 500.9L334.9 499.9L335.9 505.1L336.9 509.2L338.0 512.3L339.0 515.5L340.1 514.4L341.1 515.5L342.1 514.4L343.2 512.3L344.2 511.3L345.2 512.3L346.3 509.2L347.3 507.2L348.4 499.9L349.4 503.0L350.4 504.0L351.5 505.1L352.5 499.9L353.2 506.1L354.1 503.0L355.1 509.2L356.2 507.2L357.2 511.3L358.2 514.4L359.3 516.5L360.3 517.5L361.3 518.6L362.4 519.6L363.4 517.5L364.5 515.5L365.5 502.0L366.5 507.2L367.6 508.2L368.6 510.3L369.7 515.5L370.7 522.7L371.7 524.3" fill="none" stroke="#000" stroke-width="1.3" stroke-linejoin="round"/><rect x="327.8" y="477.6" width="49.4" height="47.2" fill="none" stroke="#333" stroke-width="1.35"/><path d="M327.8 523.8000000000001H377.2" stroke="#555" stroke-width="1" stroke-dasharray="2 1"/><path d="M398.1 491.6L398.6 486.4L399.7 484.3L400.7 482.2L401.8 480.2L402.8 481.2L403.8 486.4L404.9 494.7L405.9 498.8L406.9 500.9L408.0 509.2L409.0 514.4L410.1 517.5L411.1 515.5L412.1 515.5L413.2 516.5L414.2 518.6L415.2 520.7L416.3 522.2L417.6 523.1L418.9 523.2L419.8 523.3L420.7 523.2L421.6 523.6L422.5 523.4L423.4 523.2L424.3 523.1L425.2 523.3L426.2 523.8" fill="none" stroke="#666" stroke-width="1.2" stroke-dasharray="2 0.8"/><path d="M398.1 511.3L398.6 510.3L399.7 507.2L400.7 503.0L401.8 502.0L402.8 504.0L403.8 503.0L404.9 506.1L405.9 505.1L406.9 507.2L408.0 510.3L409.0 512.3L410.1 514.4L411.1 507.2L411.8 496.8L412.7 486.4L413.5 483.3L414.2 486.4L415.2 491.6L416.3 494.7L417.3 499.9L418.1 495.7L419.1 493.7L420.1 496.8L421.0 500.9L422.0 503.0L423.0 505.1L424.1 504.0L425.1 507.2L426.2 513.4L427.2 516.5L428.2 517.5L429.3 518.6L430.3 519.6L431.3 517.5L432.4 515.5L433.4 519.6L434.5 518.6L435.5 513.4L436.5 507.2L437.4 496.8L438.1 482.2L438.6 478.6L439.1 491.6L439.9 505.1L440.7 515.5L441.7 522.7L442.8 524.3" fill="none" stroke="#000" stroke-width="1.3" stroke-linejoin="round"/><rect x="397.6" y="477.6" width="49.4" height="47.2" fill="none" stroke="#333" stroke-width="1.35"/><path d="M397.6 523.8000000000001H447.0" stroke="#555" stroke-width="1" stroke-dasharray="2 1"/><path d="M468.4 507.2L469.6 502.0L470.7 499.9L471.7 494.7L472.8 492.6L473.8 490.5L474.8 481.2L475.6 489.5L476.4 496.8L477.4 503.0L478.5 507.2L479.5 511.3L480.5 515.5L481.6 519.6L482.6 521.7L483.7 519.6L484.7 522.7L486.2 519.6L487.3 515.5L488.3 517.5L489.4 521.7L490.4 522.5L491.4 523.8L492.4 523.3L493.3 524.3L494.3 524.2L495.2 524.2L496.2 524.3L497.2 524.3L498.2 524.3L499.2 524.3L500.3 524.3L501.3 523.9L502.3 524.3L503.4 523.8L504.4 521.0L505.5 519.2L506.5 516.5L508.1 502.0L509.1 498.8L510.1 507.2L511.2 519.6L512.2 524.3" fill="none" stroke="#666" stroke-width="1.2" stroke-dasharray="2 0.8"/><path d="M468.4 517.5L469.1 518.6L470.2 516.5L471.2 519.6L472.2 515.5L473.3 517.5L474.3 516.5L475.3 518.6L476.4 515.5L477.4 517.5L478.5 516.5L479.5 519.6L480.5 515.5L481.6 510.3L482.4 515.5L483.1 514.4L484.2 510.3L485.2 505.1L486.2 498.8L487.3 500.9L488.3 494.7L489.4 499.9L490.4 502.0L491.4 504.0L492.5 504.0L493.5 507.2L494.6 512.3L495.6 516.5L496.6 518.6L497.7 519.6L498.7 519.6L499.8 520.7L500.8 521.7L501.8 521.7L502.9 521.7L503.9 520.7L504.9 518.6L506.0 516.5L507.0 510.3L507.9 502.0L508.6 482.2L509.4 496.8L510.1 503.0L510.9 512.3L511.7 519.6L512.7 522.7L514.3 524.3L515.8 524.3" fill="none" stroke="#000" stroke-width="1.3" stroke-linejoin="round"/><rect x="467.9" y="477.6" width="49.4" height="47.2" fill="none" stroke="#333" stroke-width="1.35"/><path d="M467.9 523.8000000000001H517.3" stroke="#555" stroke-width="1" stroke-dasharray="2 1"/><path d="M286.9 531.6H514" stroke="#000" stroke-width="1.7"/><path d="M511.4 528.8000000000001L517.9 531.6L511.4 534.5L512.6 531.6Z" fill="#000"/><text x="260.10" y="540.30" font-size="10.00" textLength="31.05" lengthAdjust="spacingAndGlyphs" font-family="'Liberation Sans', Arial, sans-serif" font-weight="bold" stroke="#000" stroke-width="0.2">CD123</text></svg></body></html>
